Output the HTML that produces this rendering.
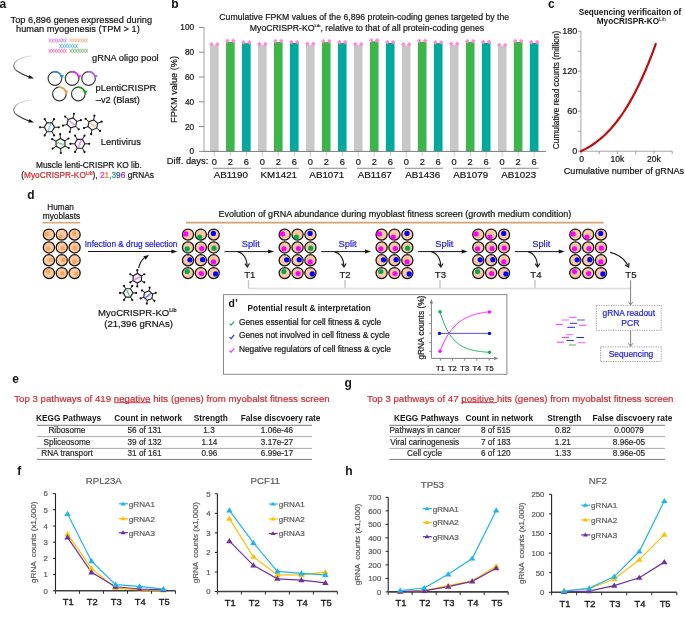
<!DOCTYPE html>
<html><head><meta charset="utf-8"><style>
html,body{margin:0;padding:0;background:#fff;}
svg{display:block;font-family:"Liberation Sans",sans-serif;will-change:transform;}
</style></head><body>
<svg width="685" height="618" viewBox="0 0 685 618">
<defs>
<linearGradient id="ga" x1="0" y1="0" x2="0" y2="1"><stop offset="0" stop-color="#e6e6e6"/><stop offset="0.5" stop-color="#777"/><stop offset="1" stop-color="#1a1a1a"/></linearGradient>
</defs>
<rect width="685" height="618" fill="#fff"/>
<text x="-0.60" y="8.00" font-size="12" font-weight="bold" fill="#151515">a</text>
<text x="10.60" y="23.10" font-size="9.22" fill="#151515" stroke="#151515" stroke-width="0.2">Top 6,896 genes expressed during</text>
<text x="16.00" y="32.10" font-size="9.22" fill="#151515" stroke="#151515" stroke-width="0.2">human myogenesis (TPM &gt; 1)</text>
<path d="M48.60,42.30 L48.80,42.25 L49.00,42.09 L49.21,41.84 L49.41,41.51 L49.61,41.12 L49.81,40.69 L50.02,40.25 L50.22,39.83 L50.42,39.44 L50.62,39.12 L50.82,38.88 L51.03,38.74 L51.23,38.70 L51.43,38.77 L51.63,38.94 L51.84,39.21 L52.04,39.55 L52.24,39.94 L52.44,40.37 L52.64,40.81 L52.85,41.23 L53.05,41.61 L53.25,41.92 L53.45,42.14 L53.66,42.27 L53.86,42.30 L54.06,42.21 L54.26,42.03 L54.46,41.75 L54.67,41.40 L54.87,41.00 L55.07,40.56 L55.27,40.13 L55.48,39.71 L55.68,39.34 L55.88,39.04 L56.08,38.83 L56.28,38.72 L56.49,38.71 L56.69,38.81 L56.89,39.01 L57.09,39.30 L57.30,39.65 L57.50,40.06 L57.70,40.50 L57.90,40.94 L58.10,41.35 L58.31,41.70 L58.51,41.99 L58.71,42.19 L58.91,42.29 L59.12,42.28 L59.32,42.17 L59.52,41.96 L59.72,41.66 L59.92,41.29 L60.13,40.87 L60.33,40.44 L60.53,40.00 L60.73,39.60 L60.94,39.25 L61.14,38.97 L61.34,38.79 L61.54,38.70 L61.74,38.73 L61.95,38.86 L62.15,39.08 L62.35,39.39 L62.55,39.77 L62.76,40.19 L62.96,40.63 L63.16,41.06 L63.36,41.45 L63.56,41.79 L63.77,42.06 L63.97,42.23 L64.17,42.30 L64.37,42.26 L64.58,42.12 L64.78,41.88 L64.98,41.56 L65.18,41.17 L65.38,40.75 L65.59,40.31 L65.79,39.88 L65.99,39.49 L66.19,39.16 L66.40,38.91 L66.60,38.75 L66.80,38.70" stroke="#d070f5" stroke-width="0.75" fill="none"/>
<path d="M48.60,38.70 L48.80,38.75 L49.00,38.91 L49.21,39.16 L49.41,39.49 L49.61,39.88 L49.81,40.31 L50.02,40.75 L50.22,41.17 L50.42,41.56 L50.62,41.88 L50.82,42.12 L51.03,42.26 L51.23,42.30 L51.43,42.23 L51.63,42.06 L51.84,41.79 L52.04,41.45 L52.24,41.06 L52.44,40.63 L52.64,40.19 L52.85,39.77 L53.05,39.39 L53.25,39.08 L53.45,38.86 L53.66,38.73 L53.86,38.70 L54.06,38.79 L54.26,38.97 L54.46,39.25 L54.67,39.60 L54.87,40.00 L55.07,40.44 L55.27,40.87 L55.48,41.29 L55.68,41.66 L55.88,41.96 L56.08,42.17 L56.28,42.28 L56.49,42.29 L56.69,42.19 L56.89,41.99 L57.09,41.70 L57.30,41.35 L57.50,40.94 L57.70,40.50 L57.90,40.06 L58.10,39.65 L58.31,39.30 L58.51,39.01 L58.71,38.81 L58.91,38.71 L59.12,38.72 L59.32,38.83 L59.52,39.04 L59.72,39.34 L59.92,39.71 L60.13,40.13 L60.33,40.56 L60.53,41.00 L60.73,41.40 L60.94,41.75 L61.14,42.03 L61.34,42.21 L61.54,42.30 L61.74,42.27 L61.95,42.14 L62.15,41.92 L62.35,41.61 L62.55,41.23 L62.76,40.81 L62.96,40.37 L63.16,39.94 L63.36,39.55 L63.56,39.21 L63.77,38.94 L63.97,38.77 L64.17,38.70 L64.37,38.74 L64.58,38.88 L64.78,39.12 L64.98,39.44 L65.18,39.83 L65.38,40.25 L65.59,40.69 L65.79,41.12 L65.99,41.51 L66.19,41.84 L66.40,42.09 L66.60,42.25 L66.80,42.30" stroke="#d070f5" stroke-width="0.75" fill="none"/>
<path d="M69.60,42.30 L69.80,42.25 L70.01,42.09 L70.21,41.84 L70.42,41.51 L70.62,41.12 L70.83,40.69 L71.03,40.25 L71.24,39.83 L71.44,39.44 L71.64,39.12 L71.85,38.88 L72.05,38.74 L72.26,38.70 L72.46,38.77 L72.67,38.94 L72.87,39.21 L73.08,39.55 L73.28,39.94 L73.48,40.37 L73.69,40.81 L73.89,41.23 L74.10,41.61 L74.30,41.92 L74.51,42.14 L74.71,42.27 L74.92,42.30 L75.12,42.21 L75.32,42.03 L75.53,41.75 L75.73,41.40 L75.94,41.00 L76.14,40.56 L76.35,40.13 L76.55,39.71 L76.76,39.34 L76.96,39.04 L77.16,38.83 L77.37,38.72 L77.57,38.71 L77.78,38.81 L77.98,39.01 L78.19,39.30 L78.39,39.65 L78.60,40.06 L78.80,40.50 L79.00,40.94 L79.21,41.35 L79.41,41.70 L79.62,41.99 L79.82,42.19 L80.03,42.29 L80.23,42.28 L80.44,42.17 L80.64,41.96 L80.84,41.66 L81.05,41.29 L81.25,40.87 L81.46,40.44 L81.66,40.00 L81.87,39.60 L82.07,39.25 L82.28,38.97 L82.48,38.79 L82.68,38.70 L82.89,38.73 L83.09,38.86 L83.30,39.08 L83.50,39.39 L83.71,39.77 L83.91,40.19 L84.12,40.63 L84.32,41.06 L84.52,41.45 L84.73,41.79 L84.93,42.06 L85.14,42.23 L85.34,42.30 L85.55,42.26 L85.75,42.12 L85.96,41.88 L86.16,41.56 L86.36,41.17 L86.57,40.75 L86.77,40.31 L86.98,39.88 L87.18,39.49 L87.39,39.16 L87.59,38.91 L87.80,38.75 L88.00,38.70" stroke="#f0a868" stroke-width="0.75" fill="none"/>
<path d="M69.60,38.70 L69.80,38.75 L70.01,38.91 L70.21,39.16 L70.42,39.49 L70.62,39.88 L70.83,40.31 L71.03,40.75 L71.24,41.17 L71.44,41.56 L71.64,41.88 L71.85,42.12 L72.05,42.26 L72.26,42.30 L72.46,42.23 L72.67,42.06 L72.87,41.79 L73.08,41.45 L73.28,41.06 L73.48,40.63 L73.69,40.19 L73.89,39.77 L74.10,39.39 L74.30,39.08 L74.51,38.86 L74.71,38.73 L74.92,38.70 L75.12,38.79 L75.32,38.97 L75.53,39.25 L75.73,39.60 L75.94,40.00 L76.14,40.44 L76.35,40.87 L76.55,41.29 L76.76,41.66 L76.96,41.96 L77.16,42.17 L77.37,42.28 L77.57,42.29 L77.78,42.19 L77.98,41.99 L78.19,41.70 L78.39,41.35 L78.60,40.94 L78.80,40.50 L79.00,40.06 L79.21,39.65 L79.41,39.30 L79.62,39.01 L79.82,38.81 L80.03,38.71 L80.23,38.72 L80.44,38.83 L80.64,39.04 L80.84,39.34 L81.05,39.71 L81.25,40.13 L81.46,40.56 L81.66,41.00 L81.87,41.40 L82.07,41.75 L82.28,42.03 L82.48,42.21 L82.68,42.30 L82.89,42.27 L83.09,42.14 L83.30,41.92 L83.50,41.61 L83.71,41.23 L83.91,40.81 L84.12,40.37 L84.32,39.94 L84.52,39.55 L84.73,39.21 L84.93,38.94 L85.14,38.77 L85.34,38.70 L85.55,38.74 L85.75,38.88 L85.96,39.12 L86.16,39.44 L86.36,39.83 L86.57,40.25 L86.77,40.69 L86.98,41.12 L87.18,41.51 L87.39,41.84 L87.59,42.09 L87.80,42.25 L88.00,42.30" stroke="#f0a868" stroke-width="0.75" fill="none"/>
<path d="M59.30,47.80 L59.50,47.75 L59.71,47.59 L59.91,47.34 L60.12,47.01 L60.32,46.62 L60.53,46.19 L60.73,45.75 L60.94,45.33 L61.14,44.94 L61.34,44.62 L61.55,44.38 L61.75,44.24 L61.96,44.20 L62.16,44.27 L62.37,44.44 L62.57,44.71 L62.78,45.05 L62.98,45.44 L63.18,45.87 L63.39,46.31 L63.59,46.73 L63.80,47.11 L64.00,47.42 L64.21,47.64 L64.41,47.77 L64.62,47.80 L64.82,47.71 L65.02,47.53 L65.23,47.25 L65.43,46.90 L65.64,46.50 L65.84,46.06 L66.05,45.63 L66.25,45.21 L66.46,44.84 L66.66,44.54 L66.86,44.33 L67.07,44.22 L67.27,44.21 L67.48,44.31 L67.68,44.51 L67.89,44.80 L68.09,45.15 L68.30,45.56 L68.50,46.00 L68.70,46.44 L68.91,46.85 L69.11,47.20 L69.32,47.49 L69.52,47.69 L69.73,47.79 L69.93,47.78 L70.14,47.67 L70.34,47.46 L70.54,47.16 L70.75,46.79 L70.95,46.37 L71.16,45.94 L71.36,45.50 L71.57,45.10 L71.77,44.75 L71.98,44.47 L72.18,44.29 L72.38,44.20 L72.59,44.23 L72.79,44.36 L73.00,44.58 L73.20,44.89 L73.41,45.27 L73.61,45.69 L73.82,46.13 L74.02,46.56 L74.22,46.95 L74.43,47.29 L74.63,47.56 L74.84,47.73 L75.04,47.80 L75.25,47.76 L75.45,47.62 L75.66,47.38 L75.86,47.06 L76.06,46.67 L76.27,46.25 L76.47,45.81 L76.68,45.38 L76.88,44.99 L77.09,44.66 L77.29,44.41 L77.50,44.25 L77.70,44.20" stroke="#3aa8e8" stroke-width="0.75" fill="none"/>
<path d="M59.30,44.20 L59.50,44.25 L59.71,44.41 L59.91,44.66 L60.12,44.99 L60.32,45.38 L60.53,45.81 L60.73,46.25 L60.94,46.67 L61.14,47.06 L61.34,47.38 L61.55,47.62 L61.75,47.76 L61.96,47.80 L62.16,47.73 L62.37,47.56 L62.57,47.29 L62.78,46.95 L62.98,46.56 L63.18,46.13 L63.39,45.69 L63.59,45.27 L63.80,44.89 L64.00,44.58 L64.21,44.36 L64.41,44.23 L64.62,44.20 L64.82,44.29 L65.02,44.47 L65.23,44.75 L65.43,45.10 L65.64,45.50 L65.84,45.94 L66.05,46.37 L66.25,46.79 L66.46,47.16 L66.66,47.46 L66.86,47.67 L67.07,47.78 L67.27,47.79 L67.48,47.69 L67.68,47.49 L67.89,47.20 L68.09,46.85 L68.30,46.44 L68.50,46.00 L68.70,45.56 L68.91,45.15 L69.11,44.80 L69.32,44.51 L69.52,44.31 L69.73,44.21 L69.93,44.22 L70.14,44.33 L70.34,44.54 L70.54,44.84 L70.75,45.21 L70.95,45.63 L71.16,46.06 L71.36,46.50 L71.57,46.90 L71.77,47.25 L71.98,47.53 L72.18,47.71 L72.38,47.80 L72.59,47.77 L72.79,47.64 L73.00,47.42 L73.20,47.11 L73.41,46.73 L73.61,46.31 L73.82,45.87 L74.02,45.44 L74.22,45.05 L74.43,44.71 L74.63,44.44 L74.84,44.27 L75.04,44.20 L75.25,44.24 L75.45,44.38 L75.66,44.62 L75.86,44.94 L76.06,45.33 L76.27,45.75 L76.47,46.19 L76.68,46.62 L76.88,47.01 L77.09,47.34 L77.29,47.59 L77.50,47.75 L77.70,47.80" stroke="#3aa8e8" stroke-width="0.75" fill="none"/>
<path d="M48.60,52.70 L48.80,52.65 L49.00,52.49 L49.21,52.24 L49.41,51.91 L49.61,51.52 L49.81,51.09 L50.02,50.65 L50.22,50.23 L50.42,49.84 L50.62,49.52 L50.82,49.28 L51.03,49.14 L51.23,49.10 L51.43,49.17 L51.63,49.34 L51.84,49.61 L52.04,49.95 L52.24,50.34 L52.44,50.77 L52.64,51.21 L52.85,51.63 L53.05,52.01 L53.25,52.32 L53.45,52.54 L53.66,52.67 L53.86,52.70 L54.06,52.61 L54.26,52.43 L54.46,52.15 L54.67,51.80 L54.87,51.40 L55.07,50.96 L55.27,50.53 L55.48,50.11 L55.68,49.74 L55.88,49.44 L56.08,49.23 L56.28,49.12 L56.49,49.11 L56.69,49.21 L56.89,49.41 L57.09,49.70 L57.30,50.05 L57.50,50.46 L57.70,50.90 L57.90,51.34 L58.10,51.75 L58.31,52.10 L58.51,52.39 L58.71,52.59 L58.91,52.69 L59.12,52.68 L59.32,52.57 L59.52,52.36 L59.72,52.06 L59.92,51.69 L60.13,51.27 L60.33,50.84 L60.53,50.40 L60.73,50.00 L60.94,49.65 L61.14,49.37 L61.34,49.19 L61.54,49.10 L61.74,49.13 L61.95,49.26 L62.15,49.48 L62.35,49.79 L62.55,50.17 L62.76,50.59 L62.96,51.03 L63.16,51.46 L63.36,51.85 L63.56,52.19 L63.77,52.46 L63.97,52.63 L64.17,52.70 L64.37,52.66 L64.58,52.52 L64.78,52.28 L64.98,51.96 L65.18,51.57 L65.38,51.15 L65.59,50.71 L65.79,50.28 L65.99,49.89 L66.19,49.56 L66.40,49.31 L66.60,49.15 L66.80,49.10" stroke="#ff4fa0" stroke-width="0.75" fill="none"/>
<path d="M48.60,49.10 L48.80,49.15 L49.00,49.31 L49.21,49.56 L49.41,49.89 L49.61,50.28 L49.81,50.71 L50.02,51.15 L50.22,51.57 L50.42,51.96 L50.62,52.28 L50.82,52.52 L51.03,52.66 L51.23,52.70 L51.43,52.63 L51.63,52.46 L51.84,52.19 L52.04,51.85 L52.24,51.46 L52.44,51.03 L52.64,50.59 L52.85,50.17 L53.05,49.79 L53.25,49.48 L53.45,49.26 L53.66,49.13 L53.86,49.10 L54.06,49.19 L54.26,49.37 L54.46,49.65 L54.67,50.00 L54.87,50.40 L55.07,50.84 L55.27,51.27 L55.48,51.69 L55.68,52.06 L55.88,52.36 L56.08,52.57 L56.28,52.68 L56.49,52.69 L56.69,52.59 L56.89,52.39 L57.09,52.10 L57.30,51.75 L57.50,51.34 L57.70,50.90 L57.90,50.46 L58.10,50.05 L58.31,49.70 L58.51,49.41 L58.71,49.21 L58.91,49.11 L59.12,49.12 L59.32,49.23 L59.52,49.44 L59.72,49.74 L59.92,50.11 L60.13,50.53 L60.33,50.96 L60.53,51.40 L60.73,51.80 L60.94,52.15 L61.14,52.43 L61.34,52.61 L61.54,52.70 L61.74,52.67 L61.95,52.54 L62.15,52.32 L62.35,52.01 L62.55,51.63 L62.76,51.21 L62.96,50.77 L63.16,50.34 L63.36,49.95 L63.56,49.61 L63.77,49.34 L63.97,49.17 L64.17,49.10 L64.37,49.14 L64.58,49.28 L64.78,49.52 L64.98,49.84 L65.18,50.23 L65.38,50.65 L65.59,51.09 L65.79,51.52 L65.99,51.91 L66.19,52.24 L66.40,52.49 L66.60,52.65 L66.80,52.70" stroke="#ff4fa0" stroke-width="0.75" fill="none"/>
<path d="M69.60,52.70 L69.80,52.65 L70.01,52.49 L70.21,52.24 L70.42,51.91 L70.62,51.52 L70.83,51.09 L71.03,50.65 L71.24,50.23 L71.44,49.84 L71.64,49.52 L71.85,49.28 L72.05,49.14 L72.26,49.10 L72.46,49.17 L72.67,49.34 L72.87,49.61 L73.08,49.95 L73.28,50.34 L73.48,50.77 L73.69,51.21 L73.89,51.63 L74.10,52.01 L74.30,52.32 L74.51,52.54 L74.71,52.67 L74.92,52.70 L75.12,52.61 L75.32,52.43 L75.53,52.15 L75.73,51.80 L75.94,51.40 L76.14,50.96 L76.35,50.53 L76.55,50.11 L76.76,49.74 L76.96,49.44 L77.16,49.23 L77.37,49.12 L77.57,49.11 L77.78,49.21 L77.98,49.41 L78.19,49.70 L78.39,50.05 L78.60,50.46 L78.80,50.90 L79.00,51.34 L79.21,51.75 L79.41,52.10 L79.62,52.39 L79.82,52.59 L80.03,52.69 L80.23,52.68 L80.44,52.57 L80.64,52.36 L80.84,52.06 L81.05,51.69 L81.25,51.27 L81.46,50.84 L81.66,50.40 L81.87,50.00 L82.07,49.65 L82.28,49.37 L82.48,49.19 L82.68,49.10 L82.89,49.13 L83.09,49.26 L83.30,49.48 L83.50,49.79 L83.71,50.17 L83.91,50.59 L84.12,51.03 L84.32,51.46 L84.52,51.85 L84.73,52.19 L84.93,52.46 L85.14,52.63 L85.34,52.70 L85.55,52.66 L85.75,52.52 L85.96,52.28 L86.16,51.96 L86.36,51.57 L86.57,51.15 L86.77,50.71 L86.98,50.28 L87.18,49.89 L87.39,49.56 L87.59,49.31 L87.80,49.15 L88.00,49.10" stroke="#5aaa50" stroke-width="0.75" fill="none"/>
<path d="M69.60,49.10 L69.80,49.15 L70.01,49.31 L70.21,49.56 L70.42,49.89 L70.62,50.28 L70.83,50.71 L71.03,51.15 L71.24,51.57 L71.44,51.96 L71.64,52.28 L71.85,52.52 L72.05,52.66 L72.26,52.70 L72.46,52.63 L72.67,52.46 L72.87,52.19 L73.08,51.85 L73.28,51.46 L73.48,51.03 L73.69,50.59 L73.89,50.17 L74.10,49.79 L74.30,49.48 L74.51,49.26 L74.71,49.13 L74.92,49.10 L75.12,49.19 L75.32,49.37 L75.53,49.65 L75.73,50.00 L75.94,50.40 L76.14,50.84 L76.35,51.27 L76.55,51.69 L76.76,52.06 L76.96,52.36 L77.16,52.57 L77.37,52.68 L77.57,52.69 L77.78,52.59 L77.98,52.39 L78.19,52.10 L78.39,51.75 L78.60,51.34 L78.80,50.90 L79.00,50.46 L79.21,50.05 L79.41,49.70 L79.62,49.41 L79.82,49.21 L80.03,49.11 L80.23,49.12 L80.44,49.23 L80.64,49.44 L80.84,49.74 L81.05,50.11 L81.25,50.53 L81.46,50.96 L81.66,51.40 L81.87,51.80 L82.07,52.15 L82.28,52.43 L82.48,52.61 L82.68,52.70 L82.89,52.67 L83.09,52.54 L83.30,52.32 L83.50,52.01 L83.71,51.63 L83.91,51.21 L84.12,50.77 L84.32,50.34 L84.52,49.95 L84.73,49.61 L84.93,49.34 L85.14,49.17 L85.34,49.10 L85.55,49.14 L85.75,49.28 L85.96,49.52 L86.16,49.84 L86.36,50.23 L86.57,50.65 L86.77,51.09 L86.98,51.52 L87.18,51.91 L87.39,52.24 L87.59,52.49 L87.80,52.65 L88.00,52.70" stroke="#5aaa50" stroke-width="0.75" fill="none"/>
<text x="92.00" y="61.40" font-size="9.3" fill="#151515" stroke="#151515" stroke-width="0.2">gRNA oligo pool</text>
<path d="M32.5,55.80 C16,57.00 9,65.50 17,71.00 C20.5,73.30 25,75.50 29,77.00" stroke="url(#ga)" stroke-width="1.1" fill="none"/>
<polygon points="34.00,78.60 28.22,78.41 29.45,75.03" fill="#151515"/>
<path d="M32.5,99.80 C16,101.00 9,109.50 17,115.00 C20.5,117.30 25,119.50 29,121.00" stroke="url(#ga)" stroke-width="1.1" fill="none"/>
<polygon points="34.00,122.60 28.22,122.41 29.45,119.03" fill="#151515"/>
<circle cx="54.90" cy="78.50" r="6.80" fill="none" stroke="#3a3a3a" stroke-width="1.2"/>
<path d="M53.72,71.80 A6.8,6.8 0 0 1 61.37,76.40" stroke="#1a8cff" stroke-width="1.6" fill="none"/>
<polygon points="61.70,78.74 59.82,74.96 64.20,75.34" fill="#1a8cff"/>
<circle cx="72.10" cy="78.50" r="6.80" fill="none" stroke="#3a3a3a" stroke-width="1.2"/>
<path d="M70.92,71.80 A6.8,6.8 0 0 1 78.57,76.40" stroke="#ff1aff" stroke-width="1.6" fill="none"/>
<polygon points="78.90,78.74 77.02,74.96 81.40,75.34" fill="#ff1aff"/>
<circle cx="88.60" cy="78.50" r="6.80" fill="none" stroke="#3a3a3a" stroke-width="1.2"/>
<path d="M87.42,71.80 A6.8,6.8 0 0 1 95.07,76.40" stroke="#b45cff" stroke-width="1.6" fill="none"/>
<polygon points="95.40,78.74 93.52,74.96 97.90,75.34" fill="#b45cff"/>
<circle cx="59.40" cy="94.00" r="6.80" fill="none" stroke="#3a3a3a" stroke-width="1.2"/>
<path d="M58.22,87.30 A6.8,6.8 0 0 1 65.87,91.90" stroke="#f5a04a" stroke-width="1.6" fill="none"/>
<polygon points="66.20,94.24 64.32,90.46 68.70,90.84" fill="#f5a04a"/>
<circle cx="78.30" cy="94.00" r="6.80" fill="none" stroke="#3a3a3a" stroke-width="1.2"/>
<path d="M77.12,87.30 A6.8,6.8 0 0 1 84.77,91.90" stroke="#14a014" stroke-width="1.6" fill="none"/>
<polygon points="85.10,94.24 83.22,90.46 87.60,90.84" fill="#14a014"/>
<text x="95.60" y="91.10" font-size="9.35" fill="#151515" stroke="#151515" stroke-width="0.2">pLentiCRISPR</text>
<text x="95.80" y="102.60" font-size="9.2" fill="#151515" stroke="#151515" stroke-width="0.2">–v2 (Blast)</text>
<path d="M54.50,127.30 L51.95,131.72 L46.85,131.72 L44.30,127.30 L46.85,122.88 L51.95,122.88Z" stroke="#222" stroke-width="1.15" fill="#ffffff"/>
<line x1="54.50" y1="127.30" x2="58.80" y2="127.30" stroke="#222" stroke-width="1.0"/>
<circle cx="58.80" cy="127.30" r="1.10" fill="#111"/>
<line x1="51.95" y1="131.72" x2="54.10" y2="135.44" stroke="#222" stroke-width="1.0"/>
<circle cx="54.10" cy="135.44" r="1.10" fill="#111"/>
<line x1="46.85" y1="131.72" x2="44.70" y2="135.44" stroke="#222" stroke-width="1.0"/>
<circle cx="44.70" cy="135.44" r="1.10" fill="#111"/>
<line x1="44.30" y1="127.30" x2="40.00" y2="127.30" stroke="#222" stroke-width="1.0"/>
<circle cx="40.00" cy="127.30" r="1.10" fill="#111"/>
<line x1="46.85" y1="122.88" x2="44.70" y2="119.16" stroke="#222" stroke-width="1.0"/>
<circle cx="44.70" cy="119.16" r="1.10" fill="#111"/>
<line x1="51.95" y1="122.88" x2="54.10" y2="119.16" stroke="#222" stroke-width="1.0"/>
<circle cx="54.10" cy="119.16" r="1.10" fill="#111"/>
<path d="M47.83,131.19 L48.20,131.12 L48.51,131.02 L48.70,130.87 L48.76,130.66 L48.68,130.41 L48.50,130.11 L48.28,129.79 L48.07,129.48 L47.96,129.21 L47.96,128.98 L48.11,128.82 L48.39,128.70 L48.75,128.62 L49.13,128.55 L49.47,128.46 L49.70,128.33 L49.81,128.14 L49.77,127.90 L49.62,127.61 L49.40,127.30 L49.18,126.99 L49.03,126.70 L48.99,126.46 L49.10,126.27 L49.33,126.14 L49.67,126.05 L50.05,125.98 L50.41,125.90 L50.69,125.78 L50.84,125.62 L50.84,125.39 L50.73,125.12 L50.52,124.81 L50.30,124.49 L50.12,124.19 L50.04,123.94 L50.10,123.73 L50.29,123.58 L50.60,123.48 L50.97,123.41" stroke="#3cb8f0" stroke-width="1.0" fill="none"/>
<path d="M76.78,121.41 L75.63,126.38 L70.75,127.87 L67.02,124.39 L68.17,119.42 L73.05,117.93Z" stroke="#222" stroke-width="1.15" fill="#ffffff"/>
<line x1="76.78" y1="121.41" x2="80.89" y2="120.15" stroke="#222" stroke-width="1.0"/>
<circle cx="80.89" cy="120.15" r="1.10" fill="#111"/>
<line x1="75.63" y1="126.38" x2="78.77" y2="129.31" stroke="#222" stroke-width="1.0"/>
<circle cx="78.77" cy="129.31" r="1.10" fill="#111"/>
<line x1="70.75" y1="127.87" x2="69.79" y2="132.06" stroke="#222" stroke-width="1.0"/>
<circle cx="69.79" cy="132.06" r="1.10" fill="#111"/>
<line x1="67.02" y1="124.39" x2="62.91" y2="125.65" stroke="#222" stroke-width="1.0"/>
<circle cx="62.91" cy="125.65" r="1.10" fill="#111"/>
<line x1="68.17" y1="119.42" x2="65.03" y2="116.49" stroke="#222" stroke-width="1.0"/>
<circle cx="65.03" cy="116.49" r="1.10" fill="#111"/>
<line x1="73.05" y1="117.93" x2="74.01" y2="113.74" stroke="#222" stroke-width="1.0"/>
<circle cx="74.01" cy="113.74" r="1.10" fill="#111"/>
<path d="M68.55,120.37 L68.52,120.75 L68.54,121.08 L68.63,121.30 L68.82,121.41 L69.09,121.40 L69.42,121.30 L69.79,121.17 L70.14,121.05 L70.43,121.01 L70.64,121.08 L70.77,121.26 L70.81,121.56 L70.79,121.93 L70.76,122.31 L70.76,122.66 L70.83,122.93 L70.98,123.07 L71.22,123.10 L71.54,123.03 L71.90,122.90 L72.26,122.77 L72.58,122.70 L72.82,122.73 L72.97,122.87 L73.04,123.14 L73.04,123.49 L73.01,123.87 L72.99,124.24 L73.03,124.54 L73.16,124.72 L73.37,124.79 L73.66,124.75 L74.01,124.63 L74.38,124.50 L74.71,124.40 L74.98,124.39 L75.17,124.50 L75.26,124.72 L75.28,125.05 L75.25,125.43" stroke="#c070f0" stroke-width="1.0" fill="none"/>
<path d="M97.59,123.16 L96.71,128.18 L91.91,129.92 L88.01,126.64 L88.89,121.62 L93.69,119.88Z" stroke="#222" stroke-width="1.15" fill="#ffffff"/>
<line x1="97.59" y1="123.16" x2="101.63" y2="121.69" stroke="#222" stroke-width="1.0"/>
<circle cx="101.63" cy="121.69" r="1.10" fill="#111"/>
<line x1="96.71" y1="128.18" x2="100.00" y2="130.94" stroke="#222" stroke-width="1.0"/>
<circle cx="100.00" cy="130.94" r="1.10" fill="#111"/>
<line x1="91.91" y1="129.92" x2="91.17" y2="134.16" stroke="#222" stroke-width="1.0"/>
<circle cx="91.17" cy="134.16" r="1.10" fill="#111"/>
<line x1="88.01" y1="126.64" x2="83.97" y2="128.11" stroke="#222" stroke-width="1.0"/>
<circle cx="83.97" cy="128.11" r="1.10" fill="#111"/>
<line x1="88.89" y1="121.62" x2="85.60" y2="118.86" stroke="#222" stroke-width="1.0"/>
<circle cx="85.60" cy="118.86" r="1.10" fill="#111"/>
<line x1="93.69" y1="119.88" x2="94.43" y2="115.64" stroke="#222" stroke-width="1.0"/>
<circle cx="94.43" cy="115.64" r="1.10" fill="#111"/>
<path d="M89.16,122.80 L89.19,123.18 L89.24,123.50 L89.36,123.71 L89.56,123.80 L89.82,123.75 L90.15,123.62 L90.49,123.44 L90.82,123.28 L91.11,123.20 L91.33,123.24 L91.48,123.41 L91.55,123.70 L91.58,124.07 L91.60,124.46 L91.64,124.80 L91.74,125.06 L91.91,125.18 L92.15,125.18 L92.46,125.07 L92.80,124.90 L93.14,124.73 L93.45,124.62 L93.69,124.62 L93.86,124.74 L93.96,125.00 L94.00,125.34 L94.02,125.73 L94.05,126.10 L94.12,126.39 L94.27,126.56 L94.49,126.60 L94.78,126.52 L95.11,126.36 L95.45,126.18 L95.78,126.05 L96.04,126.00 L96.24,126.09 L96.36,126.30 L96.41,126.62 L96.44,127.00" stroke="#f0b020" stroke-width="1.0" fill="none"/>
<path d="M65.00,145.99 L60.68,148.70 L56.17,146.30 L56.00,141.21 L60.32,138.50 L64.83,140.90Z" stroke="#222" stroke-width="1.15" fill="#ffffff"/>
<line x1="65.00" y1="145.99" x2="68.80" y2="148.01" stroke="#222" stroke-width="1.0"/>
<circle cx="68.80" cy="148.01" r="1.10" fill="#111"/>
<line x1="60.68" y1="148.70" x2="60.83" y2="152.99" stroke="#222" stroke-width="1.0"/>
<circle cx="60.83" cy="152.99" r="1.10" fill="#111"/>
<line x1="56.17" y1="146.30" x2="52.53" y2="148.58" stroke="#222" stroke-width="1.0"/>
<circle cx="52.53" cy="148.58" r="1.10" fill="#111"/>
<line x1="56.00" y1="141.21" x2="52.20" y2="139.19" stroke="#222" stroke-width="1.0"/>
<circle cx="52.20" cy="139.19" r="1.10" fill="#111"/>
<line x1="60.32" y1="138.50" x2="60.17" y2="134.21" stroke="#222" stroke-width="1.0"/>
<circle cx="60.17" cy="134.21" r="1.10" fill="#111"/>
<line x1="64.83" y1="140.90" x2="68.47" y2="138.62" stroke="#222" stroke-width="1.0"/>
<circle cx="68.47" cy="138.62" r="1.10" fill="#111"/>
<path d="M56.44,142.51 L56.56,142.87 L56.70,143.17 L56.87,143.34 L57.08,143.37 L57.33,143.26 L57.60,143.05 L57.89,142.79 L58.17,142.55 L58.43,142.40 L58.65,142.38 L58.84,142.51 L58.98,142.77 L59.11,143.11 L59.23,143.48 L59.36,143.81 L59.52,144.03 L59.71,144.10 L59.95,144.04 L60.21,143.85 L60.50,143.60 L60.79,143.35 L61.05,143.16 L61.29,143.10 L61.48,143.17 L61.64,143.39 L61.77,143.72 L61.89,144.09 L62.02,144.43 L62.16,144.69 L62.35,144.82 L62.57,144.80 L62.83,144.65 L63.11,144.41 L63.40,144.15 L63.67,143.94 L63.92,143.83 L64.13,143.86 L64.30,144.03 L64.44,144.33 L64.56,144.69" stroke="#3caa3c" stroke-width="1.0" fill="none"/>
<path d="M84.90,143.80 L82.35,148.22 L77.25,148.22 L74.70,143.80 L77.25,139.38 L82.35,139.38Z" stroke="#222" stroke-width="1.15" fill="#ffffff"/>
<line x1="84.90" y1="143.80" x2="89.20" y2="143.80" stroke="#222" stroke-width="1.0"/>
<circle cx="89.20" cy="143.80" r="1.10" fill="#111"/>
<line x1="82.35" y1="148.22" x2="84.50" y2="151.94" stroke="#222" stroke-width="1.0"/>
<circle cx="84.50" cy="151.94" r="1.10" fill="#111"/>
<line x1="77.25" y1="148.22" x2="75.10" y2="151.94" stroke="#222" stroke-width="1.0"/>
<circle cx="75.10" cy="151.94" r="1.10" fill="#111"/>
<line x1="74.70" y1="143.80" x2="70.40" y2="143.80" stroke="#222" stroke-width="1.0"/>
<circle cx="70.40" cy="143.80" r="1.10" fill="#111"/>
<line x1="77.25" y1="139.38" x2="75.10" y2="135.66" stroke="#222" stroke-width="1.0"/>
<circle cx="75.10" cy="135.66" r="1.10" fill="#111"/>
<line x1="82.35" y1="139.38" x2="84.50" y2="135.66" stroke="#222" stroke-width="1.0"/>
<circle cx="84.50" cy="135.66" r="1.10" fill="#111"/>
<path d="M78.36,147.75 L78.73,147.66 L79.04,147.55 L79.23,147.39 L79.28,147.19 L79.19,146.93 L79.00,146.64 L78.76,146.33 L78.55,146.03 L78.42,145.76 L78.42,145.53 L78.57,145.36 L78.84,145.24 L79.19,145.14 L79.57,145.06 L79.91,144.96 L80.14,144.82 L80.23,144.63 L80.19,144.39 L80.03,144.11 L79.80,143.80 L79.57,143.49 L79.41,143.21 L79.37,142.97 L79.46,142.78 L79.69,142.64 L80.03,142.54 L80.41,142.46 L80.76,142.36 L81.03,142.24 L81.18,142.07 L81.18,141.84 L81.05,141.57 L80.84,141.27 L80.60,140.96 L80.41,140.67 L80.32,140.41 L80.37,140.21 L80.56,140.05 L80.87,139.94 L81.24,139.85" stroke="#ff30ff" stroke-width="1.0" fill="none"/>
<text x="100.80" y="144.90" font-size="9.4" fill="#151515" stroke="#151515" stroke-width="0.2">Lentivirus</text>
<text x="36.00" y="168.00" font-size="8.35" fill="#151515" stroke="#151515" stroke-width="0.2">Muscle lenti-CRISPR KO lib.</text>
<text stroke="#151515" stroke-width="0.2" x="21.3" y="177.8" font-size="8.3" fill="#151515">(<tspan fill="#d02828" stroke="#d02828">MyoCRISPR-KO</tspan><tspan fill="#d02828" stroke="#d02828" font-size="5" dy="-3.2">Lib</tspan><tspan dy="3.2">), </tspan><tspan fill="#ff20e0" stroke="#ff20e0">2</tspan><tspan fill="#f08020" stroke="#f08020">1</tspan><tspan fill="#20a060" stroke="#20a060">,3</tspan><tspan fill="#2040ff" stroke="#2040ff">9</tspan><tspan fill="#a02890" stroke="#a02890">6</tspan> gRNAs</text>
<text x="171.20" y="8.00" font-size="12" font-weight="bold" fill="#151515">b</text>
<text x="364.20" y="19.60" font-size="8.7" text-anchor="middle" fill="#151515" stroke="#151515" stroke-width="0.2">Cumulative FPKM values of the 6,896 protein-coding genes targeted by the</text>
<text stroke="#151515" stroke-width="0.2" x="367" y="30.5" font-size="8.7" text-anchor="middle" fill="#151515">MyoCRISPR-KO<tspan font-size="4.4" dy="-3.1">Lib</tspan><tspan dy="3.1">, relative to that of all protein-coding genes</tspan></text>
<line x1="204.00" y1="27.00" x2="204.00" y2="151.40" stroke="#9a9a9a" stroke-width="0.9"/>
<line x1="199.00" y1="151.40" x2="204.00" y2="151.40" stroke="#7a7a7a" stroke-width="0.9"/>
<text x="194.20" y="154.40" font-size="8.3" text-anchor="end" fill="#151515" stroke="#151515" stroke-width="0.2">0</text>
<line x1="199.00" y1="126.60" x2="204.00" y2="126.60" stroke="#7a7a7a" stroke-width="0.9"/>
<text x="194.20" y="129.60" font-size="8.3" text-anchor="end" fill="#151515" stroke="#151515" stroke-width="0.2">20</text>
<line x1="199.00" y1="101.80" x2="204.00" y2="101.80" stroke="#7a7a7a" stroke-width="0.9"/>
<text x="194.20" y="104.80" font-size="8.3" text-anchor="end" fill="#151515" stroke="#151515" stroke-width="0.2">40</text>
<line x1="199.00" y1="77.00" x2="204.00" y2="77.00" stroke="#7a7a7a" stroke-width="0.9"/>
<text x="194.20" y="80.00" font-size="8.3" text-anchor="end" fill="#151515" stroke="#151515" stroke-width="0.2">60</text>
<line x1="199.00" y1="52.20" x2="204.00" y2="52.20" stroke="#7a7a7a" stroke-width="0.9"/>
<text x="194.20" y="55.20" font-size="8.3" text-anchor="end" fill="#151515" stroke="#151515" stroke-width="0.2">80</text>
<line x1="199.00" y1="27.40" x2="204.00" y2="27.40" stroke="#7a7a7a" stroke-width="0.9"/>
<text x="194.20" y="30.40" font-size="8.3" text-anchor="end" fill="#151515" stroke="#151515" stroke-width="0.2">100</text>
<text stroke="#151515" stroke-width="0.2" transform="translate(176.5,89.5) rotate(-90)" font-size="9.2" text-anchor="middle" fill="#151515">FPKM value (%)</text>
<rect x="210.05" y="45.13" width="8.60" height="106.27" fill="#c8c8c8"/>
<polygon points="211.45,41.93 213.75,44.23 211.45,46.53 209.15,44.23" fill="#ff8ad8"/>
<polygon points="217.35,41.93 219.65,44.23 217.35,46.53 215.05,44.23" fill="#ff8ad8"/>
<line x1="214.35" y1="151.40" x2="214.35" y2="156.50" stroke="#c4c4c4" stroke-width="0.9"/>
<text x="214.35" y="164.60" font-size="9.3" text-anchor="middle" fill="#151515" stroke="#151515" stroke-width="0.2">0</text>
<rect x="226.04" y="41.78" width="8.60" height="109.62" fill="#3db54a"/>
<polygon points="227.44,38.58 229.74,40.88 227.44,43.18 225.14,40.88" fill="#ff8ad8"/>
<polygon points="233.34,38.58 235.64,40.88 233.34,43.18 231.04,40.88" fill="#ff8ad8"/>
<line x1="230.34" y1="151.40" x2="230.34" y2="156.50" stroke="#c4c4c4" stroke-width="0.9"/>
<text x="230.34" y="164.60" font-size="9.3" text-anchor="middle" fill="#151515" stroke="#151515" stroke-width="0.2">2</text>
<rect x="242.03" y="43.15" width="8.60" height="108.25" fill="#00a99c"/>
<polygon points="243.43,39.95 245.73,42.25 243.43,44.55 241.13,42.25" fill="#ff8ad8"/>
<polygon points="249.33,39.95 251.63,42.25 249.33,44.55 247.03,42.25" fill="#ff8ad8"/>
<line x1="246.33" y1="151.40" x2="246.33" y2="156.50" stroke="#c4c4c4" stroke-width="0.9"/>
<text x="246.33" y="164.60" font-size="9.3" text-anchor="middle" fill="#151515" stroke="#151515" stroke-width="0.2">6</text>
<line x1="212.95" y1="168.20" x2="251.05" y2="168.20" stroke="#8a8a8a" stroke-width="1.1"/>
<text x="230.85" y="177.70" font-size="9.8" text-anchor="middle" fill="#151515" stroke="#151515" stroke-width="0.2">AB1190</text>
<rect x="258.02" y="45.01" width="8.60" height="106.39" fill="#c8c8c8"/>
<polygon points="259.42,41.81 261.72,44.11 259.42,46.41 257.12,44.11" fill="#ff8ad8"/>
<polygon points="265.32,41.81 267.62,44.11 265.32,46.41 263.02,44.11" fill="#ff8ad8"/>
<line x1="262.32" y1="151.40" x2="262.32" y2="156.50" stroke="#c4c4c4" stroke-width="0.9"/>
<text x="262.32" y="164.60" font-size="9.3" text-anchor="middle" fill="#151515" stroke="#151515" stroke-width="0.2">0</text>
<rect x="274.01" y="41.91" width="8.60" height="109.49" fill="#3db54a"/>
<polygon points="275.41,38.71 277.71,41.01 275.41,43.31 273.11,41.01" fill="#ff8ad8"/>
<polygon points="281.31,38.71 283.61,41.01 281.31,43.31 279.01,41.01" fill="#ff8ad8"/>
<line x1="278.31" y1="151.40" x2="278.31" y2="156.50" stroke="#c4c4c4" stroke-width="0.9"/>
<text x="278.31" y="164.60" font-size="9.3" text-anchor="middle" fill="#151515" stroke="#151515" stroke-width="0.2">2</text>
<rect x="290.00" y="42.90" width="8.60" height="108.50" fill="#00a99c"/>
<polygon points="291.40,39.70 293.70,42.00 291.40,44.30 289.10,42.00" fill="#ff8ad8"/>
<polygon points="297.30,39.70 299.60,42.00 297.30,44.30 295.00,42.00" fill="#ff8ad8"/>
<line x1="294.30" y1="151.40" x2="294.30" y2="156.50" stroke="#c4c4c4" stroke-width="0.9"/>
<text x="294.30" y="164.60" font-size="9.3" text-anchor="middle" fill="#151515" stroke="#151515" stroke-width="0.2">6</text>
<line x1="260.92" y1="168.20" x2="299.02" y2="168.20" stroke="#8a8a8a" stroke-width="1.1"/>
<text x="278.82" y="177.70" font-size="9.8" text-anchor="middle" fill="#151515" stroke="#151515" stroke-width="0.2">KM1421</text>
<rect x="305.99" y="44.76" width="8.60" height="106.64" fill="#c8c8c8"/>
<polygon points="307.39,41.56 309.69,43.86 307.39,46.16 305.09,43.86" fill="#ff8ad8"/>
<polygon points="313.29,41.56 315.59,43.86 313.29,46.16 310.99,43.86" fill="#ff8ad8"/>
<line x1="310.29" y1="151.40" x2="310.29" y2="156.50" stroke="#c4c4c4" stroke-width="0.9"/>
<text x="310.29" y="164.60" font-size="9.3" text-anchor="middle" fill="#151515" stroke="#151515" stroke-width="0.2">0</text>
<rect x="321.98" y="42.03" width="8.60" height="109.37" fill="#3db54a"/>
<polygon points="323.38,38.83 325.68,41.13 323.38,43.43 321.08,41.13" fill="#ff8ad8"/>
<polygon points="329.28,38.83 331.58,41.13 329.28,43.43 326.98,41.13" fill="#ff8ad8"/>
<line x1="326.28" y1="151.40" x2="326.28" y2="156.50" stroke="#c4c4c4" stroke-width="0.9"/>
<text x="326.28" y="164.60" font-size="9.3" text-anchor="middle" fill="#151515" stroke="#151515" stroke-width="0.2">2</text>
<rect x="337.97" y="43.02" width="8.60" height="108.38" fill="#00a99c"/>
<polygon points="339.37,39.82 341.67,42.12 339.37,44.42 337.07,42.12" fill="#ff8ad8"/>
<polygon points="345.27,39.82 347.57,42.12 345.27,44.42 342.97,42.12" fill="#ff8ad8"/>
<line x1="342.27" y1="151.40" x2="342.27" y2="156.50" stroke="#c4c4c4" stroke-width="0.9"/>
<text x="342.27" y="164.60" font-size="9.3" text-anchor="middle" fill="#151515" stroke="#151515" stroke-width="0.2">6</text>
<line x1="308.89" y1="168.20" x2="346.99" y2="168.20" stroke="#8a8a8a" stroke-width="1.1"/>
<text x="326.79" y="177.70" font-size="9.8" text-anchor="middle" fill="#151515" stroke="#151515" stroke-width="0.2">AB1071</text>
<rect x="353.96" y="45.01" width="8.60" height="106.39" fill="#c8c8c8"/>
<polygon points="355.36,41.81 357.66,44.11 355.36,46.41 353.06,44.11" fill="#ff8ad8"/>
<polygon points="361.26,41.81 363.56,44.11 361.26,46.41 358.96,44.11" fill="#ff8ad8"/>
<line x1="358.26" y1="151.40" x2="358.26" y2="156.50" stroke="#c4c4c4" stroke-width="0.9"/>
<text x="358.26" y="164.60" font-size="9.3" text-anchor="middle" fill="#151515" stroke="#151515" stroke-width="0.2">0</text>
<rect x="369.95" y="41.29" width="8.60" height="110.11" fill="#3db54a"/>
<polygon points="371.35,38.09 373.65,40.39 371.35,42.69 369.05,40.39" fill="#ff8ad8"/>
<polygon points="377.25,38.09 379.55,40.39 377.25,42.69 374.95,40.39" fill="#ff8ad8"/>
<line x1="374.25" y1="151.40" x2="374.25" y2="156.50" stroke="#c4c4c4" stroke-width="0.9"/>
<text x="374.25" y="164.60" font-size="9.3" text-anchor="middle" fill="#151515" stroke="#151515" stroke-width="0.2">2</text>
<rect x="385.94" y="42.90" width="8.60" height="108.50" fill="#00a99c"/>
<polygon points="387.34,39.70 389.64,42.00 387.34,44.30 385.04,42.00" fill="#ff8ad8"/>
<polygon points="393.24,39.70 395.54,42.00 393.24,44.30 390.94,42.00" fill="#ff8ad8"/>
<line x1="390.24" y1="151.40" x2="390.24" y2="156.50" stroke="#c4c4c4" stroke-width="0.9"/>
<text x="390.24" y="164.60" font-size="9.3" text-anchor="middle" fill="#151515" stroke="#151515" stroke-width="0.2">6</text>
<line x1="356.86" y1="168.20" x2="394.96" y2="168.20" stroke="#8a8a8a" stroke-width="1.1"/>
<text x="374.76" y="177.70" font-size="9.8" text-anchor="middle" fill="#151515" stroke="#151515" stroke-width="0.2">AB1167</text>
<rect x="401.93" y="45.26" width="8.60" height="106.14" fill="#c8c8c8"/>
<polygon points="403.33,42.06 405.63,44.36 403.33,46.66 401.03,44.36" fill="#ff8ad8"/>
<polygon points="409.23,42.06 411.53,44.36 409.23,46.66 406.93,44.36" fill="#ff8ad8"/>
<line x1="406.23" y1="151.40" x2="406.23" y2="156.50" stroke="#c4c4c4" stroke-width="0.9"/>
<text x="406.23" y="164.60" font-size="9.3" text-anchor="middle" fill="#151515" stroke="#151515" stroke-width="0.2">0</text>
<rect x="417.92" y="41.66" width="8.60" height="109.74" fill="#3db54a"/>
<polygon points="419.32,38.46 421.62,40.76 419.32,43.06 417.02,40.76" fill="#ff8ad8"/>
<polygon points="425.22,38.46 427.52,40.76 425.22,43.06 422.92,40.76" fill="#ff8ad8"/>
<line x1="422.22" y1="151.40" x2="422.22" y2="156.50" stroke="#c4c4c4" stroke-width="0.9"/>
<text x="422.22" y="164.60" font-size="9.3" text-anchor="middle" fill="#151515" stroke="#151515" stroke-width="0.2">2</text>
<rect x="433.91" y="43.15" width="8.60" height="108.25" fill="#00a99c"/>
<polygon points="435.31,39.95 437.61,42.25 435.31,44.55 433.01,42.25" fill="#ff8ad8"/>
<polygon points="441.21,39.95 443.51,42.25 441.21,44.55 438.91,42.25" fill="#ff8ad8"/>
<line x1="438.21" y1="151.40" x2="438.21" y2="156.50" stroke="#c4c4c4" stroke-width="0.9"/>
<text x="438.21" y="164.60" font-size="9.3" text-anchor="middle" fill="#151515" stroke="#151515" stroke-width="0.2">6</text>
<line x1="404.83" y1="168.20" x2="442.93" y2="168.20" stroke="#8a8a8a" stroke-width="1.1"/>
<text x="422.73" y="177.70" font-size="9.8" text-anchor="middle" fill="#151515" stroke="#151515" stroke-width="0.2">AB1436</text>
<rect x="449.90" y="44.76" width="8.60" height="106.64" fill="#c8c8c8"/>
<polygon points="451.30,41.56 453.60,43.86 451.30,46.16 449.00,43.86" fill="#ff8ad8"/>
<polygon points="457.20,41.56 459.50,43.86 457.20,46.16 454.90,43.86" fill="#ff8ad8"/>
<line x1="454.20" y1="151.40" x2="454.20" y2="156.50" stroke="#c4c4c4" stroke-width="0.9"/>
<text x="454.20" y="164.60" font-size="9.3" text-anchor="middle" fill="#151515" stroke="#151515" stroke-width="0.2">0</text>
<rect x="465.89" y="42.03" width="8.60" height="109.37" fill="#3db54a"/>
<polygon points="467.29,38.83 469.59,41.13 467.29,43.43 464.99,41.13" fill="#ff8ad8"/>
<polygon points="473.19,38.83 475.49,41.13 473.19,43.43 470.89,41.13" fill="#ff8ad8"/>
<line x1="470.19" y1="151.40" x2="470.19" y2="156.50" stroke="#c4c4c4" stroke-width="0.9"/>
<text x="470.19" y="164.60" font-size="9.3" text-anchor="middle" fill="#151515" stroke="#151515" stroke-width="0.2">2</text>
<rect x="481.88" y="42.78" width="8.60" height="108.62" fill="#00a99c"/>
<polygon points="483.28,39.58 485.58,41.88 483.28,44.18 480.98,41.88" fill="#ff8ad8"/>
<polygon points="489.18,39.58 491.48,41.88 489.18,44.18 486.88,41.88" fill="#ff8ad8"/>
<line x1="486.18" y1="151.40" x2="486.18" y2="156.50" stroke="#c4c4c4" stroke-width="0.9"/>
<text x="486.18" y="164.60" font-size="9.3" text-anchor="middle" fill="#151515" stroke="#151515" stroke-width="0.2">6</text>
<line x1="452.80" y1="168.20" x2="490.90" y2="168.20" stroke="#8a8a8a" stroke-width="1.1"/>
<text x="470.70" y="177.70" font-size="9.8" text-anchor="middle" fill="#151515" stroke="#151515" stroke-width="0.2">AB1079</text>
<rect x="497.87" y="45.88" width="8.60" height="105.52" fill="#c8c8c8"/>
<polygon points="499.27,42.68 501.57,44.98 499.27,47.28 496.97,44.98" fill="#ff8ad8"/>
<polygon points="505.17,42.68 507.47,44.98 505.17,47.28 502.87,44.98" fill="#ff8ad8"/>
<line x1="502.17" y1="151.40" x2="502.17" y2="156.50" stroke="#c4c4c4" stroke-width="0.9"/>
<text x="502.17" y="164.60" font-size="9.3" text-anchor="middle" fill="#151515" stroke="#151515" stroke-width="0.2">0</text>
<rect x="513.86" y="41.91" width="8.60" height="109.49" fill="#3db54a"/>
<polygon points="515.26,38.71 517.56,41.01 515.26,43.31 512.96,41.01" fill="#ff8ad8"/>
<polygon points="521.16,38.71 523.46,41.01 521.16,43.31 518.86,41.01" fill="#ff8ad8"/>
<line x1="518.16" y1="151.40" x2="518.16" y2="156.50" stroke="#c4c4c4" stroke-width="0.9"/>
<text x="518.16" y="164.60" font-size="9.3" text-anchor="middle" fill="#151515" stroke="#151515" stroke-width="0.2">2</text>
<rect x="529.85" y="43.02" width="8.60" height="108.38" fill="#00a99c"/>
<polygon points="531.25,39.82 533.55,42.12 531.25,44.42 528.95,42.12" fill="#ff8ad8"/>
<polygon points="537.15,39.82 539.45,42.12 537.15,44.42 534.85,42.12" fill="#ff8ad8"/>
<line x1="534.15" y1="151.40" x2="534.15" y2="156.50" stroke="#c4c4c4" stroke-width="0.9"/>
<text x="534.15" y="164.60" font-size="9.3" text-anchor="middle" fill="#151515" stroke="#151515" stroke-width="0.2">6</text>
<line x1="500.77" y1="168.20" x2="538.87" y2="168.20" stroke="#8a8a8a" stroke-width="1.1"/>
<text x="518.67" y="177.70" font-size="9.8" text-anchor="middle" fill="#151515" stroke="#151515" stroke-width="0.2">AB1023</text>
<line x1="204.00" y1="151.40" x2="546.00" y2="151.40" stroke="#7a7a7a" stroke-width="1.0"/>
<text x="166.80" y="164.40" font-size="9.4" fill="#151515" stroke="#151515" stroke-width="0.2">Diff. days:</text>
<text x="548.00" y="8.00" font-size="12" font-weight="bold" fill="#151515">c</text>
<text x="630.00" y="15.20" font-size="8.2" font-weight="bold" text-anchor="middle" fill="#151515">Sequencing verificaiton of</text>
<text x="631.3" y="23.7" font-size="8.2" font-weight="bold" text-anchor="middle" fill="#151515">MyoCRISPR-KO<tspan font-size="5" dy="-3" font-weight="normal">Lib</tspan></text>
<line x1="580.90" y1="31.00" x2="580.90" y2="151.20" stroke="#9a9a9a" stroke-width="0.9"/>
<line x1="577.90" y1="151.20" x2="580.90" y2="151.20" stroke="#8a8a8a" stroke-width="0.8"/>
<text x="577.20" y="154.40" font-size="9.0" text-anchor="end" fill="#151515" stroke="#151515" stroke-width="0.2">0</text>
<line x1="577.90" y1="131.20" x2="580.90" y2="131.20" stroke="#8a8a8a" stroke-width="0.8"/>
<line x1="577.90" y1="111.20" x2="580.90" y2="111.20" stroke="#8a8a8a" stroke-width="0.8"/>
<text x="577.20" y="114.40" font-size="9.0" text-anchor="end" fill="#151515" stroke="#151515" stroke-width="0.2">60</text>
<line x1="577.90" y1="91.20" x2="580.90" y2="91.20" stroke="#8a8a8a" stroke-width="0.8"/>
<line x1="577.90" y1="71.20" x2="580.90" y2="71.20" stroke="#8a8a8a" stroke-width="0.8"/>
<text x="577.20" y="74.40" font-size="9.0" text-anchor="end" fill="#151515" stroke="#151515" stroke-width="0.2">120</text>
<line x1="577.90" y1="51.20" x2="580.90" y2="51.20" stroke="#8a8a8a" stroke-width="0.8"/>
<line x1="577.90" y1="31.20" x2="580.90" y2="31.20" stroke="#8a8a8a" stroke-width="0.8"/>
<text x="577.20" y="34.40" font-size="9.0" text-anchor="end" fill="#151515" stroke="#151515" stroke-width="0.2">180</text>
<line x1="580.90" y1="151.20" x2="672.20" y2="151.20" stroke="#9a9a9a" stroke-width="0.9"/>
<line x1="580.90" y1="151.20" x2="580.90" y2="154.20" stroke="#8a8a8a" stroke-width="0.8"/>
<line x1="599.16" y1="151.20" x2="599.16" y2="154.20" stroke="#8a8a8a" stroke-width="0.8"/>
<line x1="617.42" y1="151.20" x2="617.42" y2="154.20" stroke="#8a8a8a" stroke-width="0.8"/>
<line x1="635.68" y1="151.20" x2="635.68" y2="154.20" stroke="#8a8a8a" stroke-width="0.8"/>
<line x1="653.94" y1="151.20" x2="653.94" y2="154.20" stroke="#8a8a8a" stroke-width="0.8"/>
<line x1="672.20" y1="151.20" x2="672.20" y2="154.20" stroke="#8a8a8a" stroke-width="0.8"/>
<text x="581.60" y="161.80" font-size="8.6" text-anchor="middle" fill="#151515" stroke="#151515" stroke-width="0.2">0</text>
<text x="617.42" y="161.80" font-size="8.6" text-anchor="middle" fill="#151515" stroke="#151515" stroke-width="0.2">10k</text>
<text x="653.94" y="161.80" font-size="8.6" text-anchor="middle" fill="#151515" stroke="#151515" stroke-width="0.2">20k</text>
<text x="563.80" y="173.60" font-size="9.1" fill="#151515" stroke="#151515" stroke-width="0.2">Cumulative number of gRNAs</text>
<text stroke="#151515" stroke-width="0.2" transform="translate(559.3,89.9) rotate(-90)" font-size="8.3" text-anchor="middle" fill="#151515">Cumulative read counts (million)</text>
<path d="M580.90,151.20 L582.77,150.32 L584.64,149.39 L586.51,148.39 L588.39,147.33 L590.26,146.21 L592.13,145.01 L594.00,143.75 L595.87,142.40 L597.74,140.98 L599.62,139.49 L601.49,137.90 L603.36,136.24 L605.23,134.48 L607.10,132.63 L608.97,130.69 L610.85,128.66 L612.72,126.52 L614.59,124.29 L616.46,121.95 L618.33,119.50 L620.20,116.94 L622.08,114.27 L623.95,111.49 L625.82,108.59 L627.69,105.57 L629.56,102.42 L631.43,99.15 L633.31,95.75 L635.18,92.22 L637.05,88.56 L638.92,84.76 L640.79,80.82 L642.66,76.74 L644.54,72.52 L646.41,68.15 L648.28,63.63 L650.15,58.95 L652.02,54.12 L653.89,49.14 L655.77,43.99" stroke="#c40c0c" stroke-width="2.2" fill="none" stroke-linecap="round"/>
<text x="27.30" y="199.00" font-size="12" font-weight="bold" fill="#151515">d</text>
<text x="60.55" y="209.80" font-size="8.2" text-anchor="middle" fill="#151515" stroke="#151515" stroke-width="0.2">Human</text>
<text x="61.45" y="219.00" font-size="8.3" text-anchor="middle" fill="#151515" stroke="#151515" stroke-width="0.2">myoblasts</text>
<line x1="42.30" y1="222.70" x2="80.30" y2="222.70" stroke="#d9a877" stroke-width="1.5"/>
<circle cx="48.90" cy="234.60" r="5.60" fill="#fdc9a0" stroke="#111" stroke-width="1.25"/>
<circle cx="61.75" cy="234.60" r="5.60" fill="#fdc9a0" stroke="#111" stroke-width="1.25"/>
<circle cx="74.60" cy="234.60" r="5.60" fill="#fdc9a0" stroke="#111" stroke-width="1.25"/>
<circle cx="48.90" cy="247.45" r="5.60" fill="#fdc9a0" stroke="#111" stroke-width="1.25"/>
<circle cx="61.75" cy="247.45" r="5.60" fill="#fdc9a0" stroke="#111" stroke-width="1.25"/>
<circle cx="74.60" cy="247.45" r="5.60" fill="#fdc9a0" stroke="#111" stroke-width="1.25"/>
<circle cx="48.90" cy="260.30" r="5.60" fill="#fdc9a0" stroke="#111" stroke-width="1.25"/>
<circle cx="61.75" cy="260.30" r="5.60" fill="#fdc9a0" stroke="#111" stroke-width="1.25"/>
<circle cx="74.60" cy="260.30" r="5.60" fill="#fdc9a0" stroke="#111" stroke-width="1.25"/>
<circle cx="48.90" cy="273.10" r="5.60" fill="#fdc9a0" stroke="#111" stroke-width="1.25"/>
<circle cx="61.75" cy="273.10" r="5.60" fill="#fdc9a0" stroke="#111" stroke-width="1.25"/>
<circle cx="74.60" cy="273.10" r="5.60" fill="#fdc9a0" stroke="#111" stroke-width="1.25"/>
<circle cx="46.70" cy="233.90" r="2.30" fill="#f4a75c"/>
<circle cx="60.55" cy="237.00" r="2.30" fill="#f4a75c"/>
<circle cx="74.30" cy="233.40" r="2.30" fill="#f4a75c"/>
<circle cx="48.10" cy="248.85" r="2.30" fill="#f4a75c"/>
<circle cx="62.65" cy="248.55" r="2.30" fill="#f4a75c"/>
<circle cx="74.90" cy="248.15" r="2.30" fill="#f4a75c"/>
<circle cx="50.80" cy="259.80" r="2.30" fill="#f4a75c"/>
<circle cx="63.45" cy="259.70" r="2.30" fill="#f4a75c"/>
<circle cx="74.40" cy="261.90" r="2.30" fill="#f4a75c"/>
<circle cx="48.10" cy="271.50" r="2.30" fill="#f4a75c"/>
<circle cx="62.25" cy="273.50" r="2.30" fill="#f4a75c"/>
<circle cx="76.50" cy="273.90" r="2.30" fill="#f4a75c"/>
<text x="84.80" y="246.70" font-size="8.25" fill="#1c1cf4" stroke="#1c1cf4" stroke-width="0.2">Infection &amp; drug selection</text>
<line x1="88.00" y1="251.50" x2="172.00" y2="251.50" stroke="#151515" stroke-width="1.0"/>
<polygon points="177.40,251.50 171.40,253.50 171.40,249.50" fill="#151515"/>
<path d="M138.6,268.2 C139.5,264 141.5,260 144.5,257.6" stroke="#151515" stroke-width="1.1" fill="none"/>
<polygon points="149.00,254.90 145.70,259.77 143.29,256.33" fill="#151515"/>
<path d="M141.46,280.70 L137.30,283.10 L133.14,280.70 L133.14,275.90 L137.30,273.50 L141.46,275.90Z" stroke="#222" stroke-width="1.15" fill="#ffffff"/>
<line x1="141.46" y1="280.70" x2="144.31" y2="282.35" stroke="#222" stroke-width="1.0"/>
<circle cx="144.31" cy="282.35" r="1.10" fill="#111"/>
<line x1="137.30" y1="283.10" x2="137.30" y2="286.40" stroke="#222" stroke-width="1.0"/>
<circle cx="137.30" cy="286.40" r="1.10" fill="#111"/>
<line x1="133.14" y1="280.70" x2="130.29" y2="282.35" stroke="#222" stroke-width="1.0"/>
<circle cx="130.29" cy="282.35" r="1.10" fill="#111"/>
<line x1="133.14" y1="275.90" x2="130.29" y2="274.25" stroke="#222" stroke-width="1.0"/>
<circle cx="130.29" cy="274.25" r="1.10" fill="#111"/>
<line x1="137.30" y1="273.50" x2="137.30" y2="270.20" stroke="#222" stroke-width="1.0"/>
<circle cx="137.30" cy="270.20" r="1.10" fill="#111"/>
<line x1="141.46" y1="275.90" x2="144.31" y2="274.25" stroke="#222" stroke-width="1.0"/>
<circle cx="144.31" cy="274.25" r="1.10" fill="#111"/>
<path d="M134.10,279.72 L134.39,279.94 L134.65,280.10 L134.86,280.14 L135.01,280.05 L135.10,279.82 L135.15,279.49 L135.18,279.13 L135.21,278.78 L135.29,278.51 L135.42,278.37 L135.61,278.37 L135.85,278.49 L136.14,278.70 L136.43,278.92 L136.70,279.11 L136.93,279.19 L137.10,279.15 L137.21,278.96 L137.27,278.66 L137.30,278.30 L137.33,277.94 L137.39,277.64 L137.50,277.45 L137.67,277.41 L137.90,277.49 L138.17,277.68 L138.46,277.90 L138.75,278.11 L138.99,278.23 L139.18,278.23 L139.31,278.09 L139.39,277.82 L139.42,277.47 L139.45,277.11 L139.50,276.78 L139.59,276.55 L139.74,276.46 L139.95,276.50 L140.21,276.66 L140.50,276.88" stroke="#ff30ff" stroke-width="1.0" fill="none"/>
<path d="M132.90,292.90 L130.50,297.06 L125.70,297.06 L123.30,292.90 L125.70,288.74 L130.50,288.74Z" stroke="#222" stroke-width="1.15" fill="#ffffff"/>
<line x1="132.90" y1="292.90" x2="136.20" y2="292.90" stroke="#222" stroke-width="1.0"/>
<circle cx="136.20" cy="292.90" r="1.10" fill="#111"/>
<line x1="130.50" y1="297.06" x2="132.15" y2="299.91" stroke="#222" stroke-width="1.0"/>
<circle cx="132.15" cy="299.91" r="1.10" fill="#111"/>
<line x1="125.70" y1="297.06" x2="124.05" y2="299.91" stroke="#222" stroke-width="1.0"/>
<circle cx="124.05" cy="299.91" r="1.10" fill="#111"/>
<line x1="123.30" y1="292.90" x2="120.00" y2="292.90" stroke="#222" stroke-width="1.0"/>
<circle cx="120.00" cy="292.90" r="1.10" fill="#111"/>
<line x1="125.70" y1="288.74" x2="124.05" y2="285.89" stroke="#222" stroke-width="1.0"/>
<circle cx="124.05" cy="285.89" r="1.10" fill="#111"/>
<line x1="130.50" y1="288.74" x2="132.15" y2="285.89" stroke="#222" stroke-width="1.0"/>
<circle cx="132.15" cy="285.89" r="1.10" fill="#111"/>
<path d="M126.40,289.84 L126.21,290.15 L126.08,290.42 L126.05,290.63 L126.16,290.77 L126.39,290.84 L126.72,290.86 L127.09,290.86 L127.44,290.86 L127.71,290.91 L127.86,291.03 L127.88,291.22 L127.78,291.48 L127.60,291.78 L127.40,292.09 L127.24,292.37 L127.18,292.61 L127.24,292.78 L127.44,292.87 L127.74,292.90 L128.10,292.90 L128.46,292.90 L128.76,292.93 L128.96,293.02 L129.02,293.19 L128.96,293.43 L128.80,293.71 L128.60,294.02 L128.42,294.32 L128.32,294.58 L128.34,294.77 L128.49,294.89 L128.76,294.94 L129.11,294.94 L129.48,294.94 L129.81,294.96 L130.04,295.03 L130.15,295.17 L130.12,295.38 L129.99,295.65 L129.80,295.96" stroke="#30b060" stroke-width="1.0" fill="none"/>
<path d="M152.71,293.96 L151.88,298.69 L147.37,300.33 L143.69,297.24 L144.52,292.51 L149.03,290.87Z" stroke="#222" stroke-width="1.15" fill="#ffffff"/>
<line x1="152.71" y1="293.96" x2="155.81" y2="292.83" stroke="#222" stroke-width="1.0"/>
<circle cx="155.81" cy="292.83" r="1.10" fill="#111"/>
<line x1="151.88" y1="298.69" x2="154.40" y2="300.81" stroke="#222" stroke-width="1.0"/>
<circle cx="154.40" cy="300.81" r="1.10" fill="#111"/>
<line x1="147.37" y1="300.33" x2="146.79" y2="303.58" stroke="#222" stroke-width="1.0"/>
<circle cx="146.79" cy="303.58" r="1.10" fill="#111"/>
<line x1="143.69" y1="297.24" x2="140.59" y2="298.37" stroke="#222" stroke-width="1.0"/>
<circle cx="140.59" cy="298.37" r="1.10" fill="#111"/>
<line x1="144.52" y1="292.51" x2="142.00" y2="290.39" stroke="#222" stroke-width="1.0"/>
<circle cx="142.00" cy="290.39" r="1.10" fill="#111"/>
<line x1="149.03" y1="290.87" x2="149.61" y2="287.62" stroke="#222" stroke-width="1.0"/>
<circle cx="149.61" cy="287.62" r="1.10" fill="#111"/>
<path d="M145.37,297.66 L145.70,297.81 L145.98,297.91 L146.20,297.91 L146.33,297.78 L146.37,297.54 L146.35,297.22 L146.30,296.85 L146.26,296.50 L146.28,296.23 L146.37,296.06 L146.56,296.02 L146.83,296.09 L147.14,296.23 L147.48,296.39 L147.78,296.51 L148.02,296.55 L148.18,296.47 L148.25,296.26 L148.25,295.96 L148.20,295.60 L148.15,295.24 L148.15,294.94 L148.22,294.73 L148.38,294.65 L148.62,294.69 L148.92,294.81 L149.26,294.97 L149.57,295.11 L149.84,295.18 L150.03,295.14 L150.12,294.97 L150.14,294.70 L150.10,294.35 L150.05,293.98 L150.03,293.66 L150.07,293.42 L150.20,293.29 L150.42,293.29 L150.70,293.39 L151.03,293.54" stroke="#2040ff" stroke-width="1.0" fill="none"/>
<text stroke="#151515" stroke-width="0.2" x="98.1" y="315.6" font-size="9.55" fill="#151515">MyoCRISPR-KO<tspan font-size="5.4" dy="-3.4">Lib</tspan></text>
<text x="104.20" y="326.70" font-size="9.6" fill="#151515" stroke="#151515" stroke-width="0.2">(21,396 gRNAs)</text>
<text x="218.60" y="217.10" font-size="9.0" fill="#151515" stroke="#151515" stroke-width="0.2">Evolution of gRNA abundance during myoblast fitness screen (growth medium condition)</text>
<line x1="185.80" y1="222.60" x2="603.60" y2="222.60" stroke="#d4a373" stroke-width="1.6"/>
<circle cx="188.00" cy="234.60" r="5.60" fill="#fdc9a0" stroke="#111" stroke-width="1.25"/>
<circle cx="200.85" cy="234.60" r="5.60" fill="#fdc9a0" stroke="#111" stroke-width="1.25"/>
<circle cx="213.70" cy="234.60" r="5.60" fill="#fdc9a0" stroke="#111" stroke-width="1.25"/>
<circle cx="188.00" cy="247.45" r="5.60" fill="#fdc9a0" stroke="#111" stroke-width="1.25"/>
<circle cx="200.85" cy="247.45" r="5.60" fill="#fdc9a0" stroke="#111" stroke-width="1.25"/>
<circle cx="213.70" cy="247.45" r="5.60" fill="#fdc9a0" stroke="#111" stroke-width="1.25"/>
<circle cx="188.00" cy="260.30" r="5.60" fill="#fdc9a0" stroke="#111" stroke-width="1.25"/>
<circle cx="200.85" cy="260.30" r="5.60" fill="#fdc9a0" stroke="#111" stroke-width="1.25"/>
<circle cx="213.70" cy="260.30" r="5.60" fill="#fdc9a0" stroke="#111" stroke-width="1.25"/>
<circle cx="188.00" cy="273.10" r="5.60" fill="#fdc9a0" stroke="#111" stroke-width="1.25"/>
<circle cx="200.85" cy="273.10" r="5.60" fill="#fdc9a0" stroke="#111" stroke-width="1.25"/>
<circle cx="213.70" cy="273.10" r="5.60" fill="#fdc9a0" stroke="#111" stroke-width="1.25"/>
<circle cx="185.80" cy="233.90" r="2.60" fill="#ff00ff"/>
<circle cx="199.65" cy="237.00" r="2.60" fill="#00aa50"/>
<circle cx="213.40" cy="233.40" r="2.60" fill="#0000ff"/>
<circle cx="187.20" cy="248.85" r="2.60" fill="#00aa50"/>
<circle cx="201.75" cy="248.55" r="2.60" fill="#ff00ff"/>
<circle cx="214.00" cy="248.15" r="2.60" fill="#00aa50"/>
<circle cx="189.90" cy="259.80" r="2.60" fill="#0000ff"/>
<circle cx="202.55" cy="259.70" r="2.60" fill="#0000ff"/>
<circle cx="213.50" cy="261.90" r="2.60" fill="#ff00ff"/>
<circle cx="187.20" cy="271.50" r="2.60" fill="#00aa50"/>
<circle cx="201.35" cy="273.50" r="2.60" fill="#ff00ff"/>
<circle cx="215.60" cy="273.90" r="2.60" fill="#0000ff"/>
<circle cx="284.70" cy="234.60" r="5.60" fill="#fdc9a0" stroke="#111" stroke-width="1.25"/>
<circle cx="297.55" cy="234.60" r="5.60" fill="#fdc9a0" stroke="#111" stroke-width="1.25"/>
<circle cx="310.40" cy="234.60" r="5.60" fill="#fdc9a0" stroke="#111" stroke-width="1.25"/>
<circle cx="284.70" cy="247.45" r="5.60" fill="#fdc9a0" stroke="#111" stroke-width="1.25"/>
<circle cx="297.55" cy="247.45" r="5.60" fill="#fdc9a0" stroke="#111" stroke-width="1.25"/>
<circle cx="310.40" cy="247.45" r="5.60" fill="#fdc9a0" stroke="#111" stroke-width="1.25"/>
<circle cx="284.70" cy="260.30" r="5.60" fill="#fdc9a0" stroke="#111" stroke-width="1.25"/>
<circle cx="297.55" cy="260.30" r="5.60" fill="#fdc9a0" stroke="#111" stroke-width="1.25"/>
<circle cx="310.40" cy="260.30" r="5.60" fill="#fdc9a0" stroke="#111" stroke-width="1.25"/>
<circle cx="284.70" cy="273.10" r="5.60" fill="#fdc9a0" stroke="#111" stroke-width="1.25"/>
<circle cx="297.55" cy="273.10" r="5.60" fill="#fdc9a0" stroke="#111" stroke-width="1.25"/>
<circle cx="310.40" cy="273.10" r="5.60" fill="#fdc9a0" stroke="#111" stroke-width="1.25"/>
<circle cx="282.50" cy="233.90" r="2.60" fill="#ff00ff"/>
<circle cx="296.35" cy="237.00" r="2.60" fill="#00aa50"/>
<circle cx="310.10" cy="233.40" r="2.60" fill="#0000ff"/>
<circle cx="283.90" cy="248.85" r="2.60" fill="#ff00ff"/>
<circle cx="298.45" cy="248.55" r="2.60" fill="#ff00ff"/>
<circle cx="310.70" cy="248.15" r="2.60" fill="#00aa50"/>
<circle cx="286.60" cy="259.80" r="2.60" fill="#0000ff"/>
<circle cx="299.25" cy="259.70" r="2.60" fill="#0000ff"/>
<circle cx="310.20" cy="261.90" r="2.60" fill="#ff00ff"/>
<circle cx="283.90" cy="271.50" r="2.60" fill="#00aa50"/>
<circle cx="298.05" cy="273.50" r="2.60" fill="#ff00ff"/>
<circle cx="312.30" cy="273.90" r="2.60" fill="#0000ff"/>
<circle cx="381.60" cy="234.60" r="5.60" fill="#fdc9a0" stroke="#111" stroke-width="1.25"/>
<circle cx="394.45" cy="234.60" r="5.60" fill="#fdc9a0" stroke="#111" stroke-width="1.25"/>
<circle cx="407.30" cy="234.60" r="5.60" fill="#fdc9a0" stroke="#111" stroke-width="1.25"/>
<circle cx="381.60" cy="247.45" r="5.60" fill="#fdc9a0" stroke="#111" stroke-width="1.25"/>
<circle cx="394.45" cy="247.45" r="5.60" fill="#fdc9a0" stroke="#111" stroke-width="1.25"/>
<circle cx="407.30" cy="247.45" r="5.60" fill="#fdc9a0" stroke="#111" stroke-width="1.25"/>
<circle cx="381.60" cy="260.30" r="5.60" fill="#fdc9a0" stroke="#111" stroke-width="1.25"/>
<circle cx="394.45" cy="260.30" r="5.60" fill="#fdc9a0" stroke="#111" stroke-width="1.25"/>
<circle cx="407.30" cy="260.30" r="5.60" fill="#fdc9a0" stroke="#111" stroke-width="1.25"/>
<circle cx="381.60" cy="273.10" r="5.60" fill="#fdc9a0" stroke="#111" stroke-width="1.25"/>
<circle cx="394.45" cy="273.10" r="5.60" fill="#fdc9a0" stroke="#111" stroke-width="1.25"/>
<circle cx="407.30" cy="273.10" r="5.60" fill="#fdc9a0" stroke="#111" stroke-width="1.25"/>
<circle cx="379.40" cy="233.90" r="2.60" fill="#ff00ff"/>
<circle cx="393.25" cy="237.00" r="2.60" fill="#ff00ff"/>
<circle cx="407.00" cy="233.40" r="2.60" fill="#0000ff"/>
<circle cx="380.80" cy="248.85" r="2.60" fill="#ff00ff"/>
<circle cx="395.35" cy="248.55" r="2.60" fill="#ff00ff"/>
<circle cx="407.60" cy="248.15" r="2.60" fill="#00aa50"/>
<circle cx="383.50" cy="259.80" r="2.60" fill="#0000ff"/>
<circle cx="396.15" cy="259.70" r="2.60" fill="#0000ff"/>
<circle cx="407.10" cy="261.90" r="2.60" fill="#ff00ff"/>
<circle cx="380.80" cy="271.50" r="2.60" fill="#00aa50"/>
<circle cx="394.95" cy="273.50" r="2.60" fill="#ff00ff"/>
<circle cx="409.20" cy="273.90" r="2.60" fill="#0000ff"/>
<circle cx="478.30" cy="234.60" r="5.60" fill="#fdc9a0" stroke="#111" stroke-width="1.25"/>
<circle cx="491.15" cy="234.60" r="5.60" fill="#fdc9a0" stroke="#111" stroke-width="1.25"/>
<circle cx="504.00" cy="234.60" r="5.60" fill="#fdc9a0" stroke="#111" stroke-width="1.25"/>
<circle cx="478.30" cy="247.45" r="5.60" fill="#fdc9a0" stroke="#111" stroke-width="1.25"/>
<circle cx="491.15" cy="247.45" r="5.60" fill="#fdc9a0" stroke="#111" stroke-width="1.25"/>
<circle cx="504.00" cy="247.45" r="5.60" fill="#fdc9a0" stroke="#111" stroke-width="1.25"/>
<circle cx="478.30" cy="260.30" r="5.60" fill="#fdc9a0" stroke="#111" stroke-width="1.25"/>
<circle cx="491.15" cy="260.30" r="5.60" fill="#fdc9a0" stroke="#111" stroke-width="1.25"/>
<circle cx="504.00" cy="260.30" r="5.60" fill="#fdc9a0" stroke="#111" stroke-width="1.25"/>
<circle cx="478.30" cy="273.10" r="5.60" fill="#fdc9a0" stroke="#111" stroke-width="1.25"/>
<circle cx="491.15" cy="273.10" r="5.60" fill="#fdc9a0" stroke="#111" stroke-width="1.25"/>
<circle cx="504.00" cy="273.10" r="5.60" fill="#fdc9a0" stroke="#111" stroke-width="1.25"/>
<circle cx="476.10" cy="233.90" r="2.60" fill="#ff00ff"/>
<circle cx="489.95" cy="237.00" r="2.60" fill="#ff00ff"/>
<circle cx="503.70" cy="233.40" r="2.60" fill="#0000ff"/>
<circle cx="477.50" cy="248.85" r="2.60" fill="#ff00ff"/>
<circle cx="492.05" cy="248.55" r="2.60" fill="#ff00ff"/>
<circle cx="504.30" cy="248.15" r="2.60" fill="#ff00ff"/>
<circle cx="480.20" cy="259.80" r="2.60" fill="#0000ff"/>
<circle cx="492.85" cy="259.70" r="2.60" fill="#0000ff"/>
<circle cx="503.80" cy="261.90" r="2.60" fill="#ff00ff"/>
<circle cx="477.50" cy="271.50" r="2.60" fill="#00aa50"/>
<circle cx="491.65" cy="273.50" r="2.60" fill="#ff00ff"/>
<circle cx="505.90" cy="273.90" r="2.60" fill="#0000ff"/>
<circle cx="575.30" cy="234.60" r="5.60" fill="#fdc9a0" stroke="#111" stroke-width="1.25"/>
<circle cx="588.15" cy="234.60" r="5.60" fill="#fdc9a0" stroke="#111" stroke-width="1.25"/>
<circle cx="601.00" cy="234.60" r="5.60" fill="#fdc9a0" stroke="#111" stroke-width="1.25"/>
<circle cx="575.30" cy="247.45" r="5.60" fill="#fdc9a0" stroke="#111" stroke-width="1.25"/>
<circle cx="588.15" cy="247.45" r="5.60" fill="#fdc9a0" stroke="#111" stroke-width="1.25"/>
<circle cx="601.00" cy="247.45" r="5.60" fill="#fdc9a0" stroke="#111" stroke-width="1.25"/>
<circle cx="575.30" cy="260.30" r="5.60" fill="#fdc9a0" stroke="#111" stroke-width="1.25"/>
<circle cx="588.15" cy="260.30" r="5.60" fill="#fdc9a0" stroke="#111" stroke-width="1.25"/>
<circle cx="601.00" cy="260.30" r="5.60" fill="#fdc9a0" stroke="#111" stroke-width="1.25"/>
<circle cx="575.30" cy="273.10" r="5.60" fill="#fdc9a0" stroke="#111" stroke-width="1.25"/>
<circle cx="588.15" cy="273.10" r="5.60" fill="#fdc9a0" stroke="#111" stroke-width="1.25"/>
<circle cx="601.00" cy="273.10" r="5.60" fill="#fdc9a0" stroke="#111" stroke-width="1.25"/>
<circle cx="573.10" cy="233.90" r="2.60" fill="#ff00ff"/>
<circle cx="586.95" cy="237.00" r="2.60" fill="#ff00ff"/>
<circle cx="600.70" cy="233.40" r="2.60" fill="#0000ff"/>
<circle cx="574.50" cy="248.85" r="2.60" fill="#ff00ff"/>
<circle cx="589.05" cy="248.55" r="2.60" fill="#ff00ff"/>
<circle cx="601.30" cy="248.15" r="2.60" fill="#ff00ff"/>
<circle cx="577.20" cy="259.80" r="2.60" fill="#0000ff"/>
<circle cx="589.85" cy="259.70" r="2.60" fill="#0000ff"/>
<circle cx="600.80" cy="261.90" r="2.60" fill="#ff00ff"/>
<circle cx="574.50" cy="271.50" r="2.60" fill="#ff00ff"/>
<circle cx="588.65" cy="273.50" r="2.60" fill="#ff00ff"/>
<circle cx="602.90" cy="273.90" r="2.60" fill="#0000ff"/>
<line x1="224.50" y1="251.60" x2="270.10" y2="251.60" stroke="#151515" stroke-width="1.0"/>
<polygon points="274.10,251.60 268.10,253.60 268.10,249.60" fill="#151515"/>
<text x="250.80" y="246.50" font-size="9.3" text-anchor="middle" fill="#1c1cf4" stroke="#1c1cf4" stroke-width="0.2">Split</text>
<path d="M237.70,251.6 C242.70,253 246.70,258 247.20,266" stroke="#151515" stroke-width="1.1" fill="none"/>
<path d="M244.88,263.68 L247.30,267.00 L249.48,263.52" stroke="#151515" stroke-width="1.2" fill="none"/>
<text x="249.80" y="277.90" font-size="9.6" text-anchor="middle" fill="#151515" stroke="#151515" stroke-width="0.2">T1</text>
<line x1="248.50" y1="280.10" x2="248.50" y2="288.60" stroke="#c4c4c4" stroke-width="1.4"/>
<line x1="321.20" y1="251.60" x2="367.00" y2="251.60" stroke="#151515" stroke-width="1.0"/>
<polygon points="371.00,251.60 365.00,253.60 365.00,249.60" fill="#151515"/>
<text x="347.60" y="246.50" font-size="9.3" text-anchor="middle" fill="#1c1cf4" stroke="#1c1cf4" stroke-width="0.2">Split</text>
<path d="M334.40,251.6 C339.40,253 343.40,258 343.90,266" stroke="#151515" stroke-width="1.1" fill="none"/>
<path d="M341.58,263.68 L344.00,267.00 L346.18,263.52" stroke="#151515" stroke-width="1.2" fill="none"/>
<text x="345.10" y="277.90" font-size="9.6" text-anchor="middle" fill="#151515" stroke="#151515" stroke-width="0.2">T2</text>
<line x1="345.00" y1="280.10" x2="345.00" y2="288.60" stroke="#c4c4c4" stroke-width="1.4"/>
<line x1="418.10" y1="251.60" x2="463.70" y2="251.60" stroke="#151515" stroke-width="1.0"/>
<polygon points="467.70,251.60 461.70,253.60 461.70,249.60" fill="#151515"/>
<text x="444.40" y="246.50" font-size="9.3" text-anchor="middle" fill="#1c1cf4" stroke="#1c1cf4" stroke-width="0.2">Split</text>
<path d="M431.30,251.6 C436.30,253 440.30,258 440.80,266" stroke="#151515" stroke-width="1.1" fill="none"/>
<path d="M438.48,263.68 L440.90,267.00 L443.08,263.52" stroke="#151515" stroke-width="1.2" fill="none"/>
<text x="440.45" y="277.90" font-size="9.6" text-anchor="middle" fill="#151515" stroke="#151515" stroke-width="0.2">T3</text>
<line x1="440.00" y1="280.10" x2="440.00" y2="288.60" stroke="#c4c4c4" stroke-width="1.4"/>
<line x1="514.80" y1="251.60" x2="560.70" y2="251.60" stroke="#151515" stroke-width="1.0"/>
<polygon points="564.70,251.60 558.70,253.60 558.70,249.60" fill="#151515"/>
<text x="541.25" y="246.50" font-size="9.3" text-anchor="middle" fill="#1c1cf4" stroke="#1c1cf4" stroke-width="0.2">Split</text>
<path d="M528.00,251.6 C533.00,253 537.00,258 537.50,266" stroke="#151515" stroke-width="1.1" fill="none"/>
<path d="M535.18,263.68 L537.60,267.00 L539.78,263.52" stroke="#151515" stroke-width="1.2" fill="none"/>
<text x="535.95" y="277.90" font-size="9.6" text-anchor="middle" fill="#151515" stroke="#151515" stroke-width="0.2">T4</text>
<line x1="535.00" y1="280.10" x2="535.00" y2="288.60" stroke="#c4c4c4" stroke-width="1.4"/>
<path d="M610.2,252.4 C617,254 624,258 627.8,265.5" stroke="#151515" stroke-width="1.1" fill="none"/>
<path d="M624.97,265.08 L628.60,267.00 L629.03,262.92" stroke="#151515" stroke-width="1.2" fill="none"/>
<text x="630.90" y="277.90" font-size="9.6" text-anchor="middle" fill="#151515" stroke="#151515" stroke-width="0.2">T5</text>
<line x1="248.50" y1="288.60" x2="630.60" y2="288.60" stroke="#dcdcdc" stroke-width="1.5"/>
<line x1="630.60" y1="280.30" x2="630.60" y2="304.60" stroke="#808080" stroke-width="1.0"/>
<path d="M628.30,301.80 L630.60,305.00 L632.90,301.80" stroke="#808080" stroke-width="1.0" fill="none"/>
<line x1="630.60" y1="330.30" x2="630.60" y2="346.00" stroke="#808080" stroke-width="1.0"/>
<path d="M628.30,343.20 L630.60,346.40 L632.90,343.20" stroke="#808080" stroke-width="1.0" fill="none"/>
<rect x="596.4" y="305.4" width="64.8" height="24.9" fill="none" stroke="#909090" stroke-width="0.9" stroke-dasharray="1.2,1.2"/>
<rect x="600.5" y="346.9" width="60.7" height="14.6" fill="none" stroke="#909090" stroke-width="0.9" stroke-dasharray="1.2,1.2"/>
<text x="628.80" y="315.80" font-size="8.35" text-anchor="middle" fill="#1c1cf4" stroke="#1c1cf4" stroke-width="0.2">gRNA readout</text>
<text x="630.40" y="325.80" font-size="8.6" text-anchor="middle" fill="#1c1cf4" stroke="#1c1cf4" stroke-width="0.2">PCR</text>
<text x="631.00" y="356.90" font-size="8.45" text-anchor="middle" fill="#1c1cf4" stroke="#1c1cf4" stroke-width="0.2">Sequencing</text>
<line x1="569.10" y1="317.30" x2="576.70" y2="317.30" stroke="#ff40ff" stroke-width="1.0"/>
<line x1="561.50" y1="320.00" x2="568.90" y2="320.00" stroke="#ff90ff" stroke-width="1.4"/>
<line x1="577.20" y1="320.00" x2="584.80" y2="320.00" stroke="#8080ff" stroke-width="1.4"/>
<line x1="569.90" y1="323.40" x2="577.10" y2="323.40" stroke="#5050ff" stroke-width="1.2"/>
<line x1="555.70" y1="324.40" x2="562.90" y2="324.40" stroke="#ff30ff" stroke-width="1.0"/>
<line x1="578.90" y1="325.30" x2="586.10" y2="325.30" stroke="#ff40ff" stroke-width="1.0"/>
<line x1="567.30" y1="327.30" x2="574.90" y2="327.30" stroke="#2020ff" stroke-width="1.0"/>
<line x1="566.10" y1="334.60" x2="573.30" y2="334.60" stroke="#ff80ff" stroke-width="1.2"/>
<line x1="561.70" y1="337.50" x2="569.10" y2="337.50" stroke="#ff30ff" stroke-width="1.0"/>
<line x1="576.40" y1="337.50" x2="584.00" y2="337.50" stroke="#2020ff" stroke-width="1.0"/>
<line x1="566.50" y1="340.40" x2="573.90" y2="340.40" stroke="#2020ff" stroke-width="1.0"/>
<line x1="556.80" y1="342.20" x2="564.10" y2="342.20" stroke="#ff30ff" stroke-width="1.0"/>
<line x1="578.20" y1="342.70" x2="585.60" y2="342.70" stroke="#ff60ff" stroke-width="1.1"/>
<line x1="568.80" y1="345.00" x2="575.90" y2="345.00" stroke="#80c080" stroke-width="1.3"/>
<rect x="223.5" y="294.6" width="283.4" height="79.7" fill="none" stroke="#8a8a8a" stroke-width="1"/>
<text x="228.60" y="306.60" font-size="10.4" font-weight="bold" fill="#151515">d’</text>
<text x="247.60" y="310.90" font-size="8.25" font-weight="bold" fill="#151515">Potential result &amp; interpretation</text>
<path d="M229.5,323.50 L231.1,325.20 L234.2,321.30" stroke="#10b050" stroke-width="1.05" fill="none"/>
<path d="M229.5,337.00 L231.1,338.70 L234.2,334.80" stroke="#2020e0" stroke-width="1.05" fill="none"/>
<path d="M229.5,350.60 L231.1,352.30 L234.2,348.40" stroke="#ff10ff" stroke-width="1.05" fill="none"/>
<text x="238.90" y="324.60" font-size="8.35" fill="#151515" stroke="#151515" stroke-width="0.2">Genes essential for cell fitness &amp; cycle</text>
<text x="238.90" y="338.10" font-size="8.35" fill="#151515" stroke="#151515" stroke-width="0.2">Genes not involved in cell fitness &amp; cycle</text>
<text x="238.90" y="351.60" font-size="8.35" fill="#151515" stroke="#151515" stroke-width="0.2">Negative regulators of cell fitness &amp; cycle</text>
<line x1="431.40" y1="358.40" x2="431.40" y2="302.50" stroke="#808080" stroke-width="1.0"/>
<polygon points="431.40,299.00 433.10,303.50 429.70,303.50" fill="#808080"/>
<line x1="431.40" y1="358.40" x2="495.00" y2="358.40" stroke="#808080" stroke-width="1.0"/>
<polygon points="498.60,358.40 494.10,360.10 494.10,356.70" fill="#808080"/>
<line x1="429.20" y1="315.00" x2="431.40" y2="315.00" stroke="#808080" stroke-width="0.9"/>
<line x1="429.20" y1="323.60" x2="431.40" y2="323.60" stroke="#808080" stroke-width="0.9"/>
<line x1="429.20" y1="333.20" x2="431.40" y2="333.20" stroke="#808080" stroke-width="0.9"/>
<line x1="429.20" y1="342.60" x2="431.40" y2="342.60" stroke="#808080" stroke-width="0.9"/>
<line x1="429.20" y1="351.40" x2="431.40" y2="351.40" stroke="#808080" stroke-width="0.9"/>
<line x1="440.40" y1="358.40" x2="440.40" y2="360.80" stroke="#808080" stroke-width="0.9"/>
<text x="440.40" y="370.60" font-size="7.5" text-anchor="middle" fill="#151515" stroke="#151515" stroke-width="0.2">T1</text>
<line x1="452.40" y1="358.40" x2="452.40" y2="360.80" stroke="#808080" stroke-width="0.9"/>
<text x="452.40" y="370.60" font-size="7.5" text-anchor="middle" fill="#151515" stroke="#151515" stroke-width="0.2">T2</text>
<line x1="464.70" y1="358.40" x2="464.70" y2="360.80" stroke="#808080" stroke-width="0.9"/>
<text x="464.70" y="370.60" font-size="7.5" text-anchor="middle" fill="#151515" stroke="#151515" stroke-width="0.2">T3</text>
<line x1="476.80" y1="358.40" x2="476.80" y2="360.80" stroke="#808080" stroke-width="0.9"/>
<text x="476.80" y="370.60" font-size="7.5" text-anchor="middle" fill="#151515" stroke="#151515" stroke-width="0.2">T4</text>
<line x1="489.20" y1="358.40" x2="489.20" y2="360.80" stroke="#808080" stroke-width="0.9"/>
<text x="489.20" y="370.60" font-size="7.5" text-anchor="middle" fill="#151515" stroke="#151515" stroke-width="0.2">T5</text>
<text stroke="#151515" stroke-width="0.2" transform="translate(424.3,327.6) rotate(-90)" font-size="8.35" text-anchor="middle" fill="#151515">gRNA counts (%)</text>
<line x1="440.00" y1="333.40" x2="489.50" y2="333.40" stroke="#5050ff" stroke-width="1.0"/>
<path d="M440.00,311.70 L440.99,314.92 L441.98,317.89 L442.97,320.63 L443.96,323.15 L444.95,325.48 L445.94,327.62 L446.93,329.60 L447.92,331.43 L448.91,333.11 L449.90,334.66 L450.89,336.09 L451.88,337.41 L452.87,338.62 L453.86,339.75 L454.85,340.78 L455.84,341.73 L456.83,342.61 L457.82,343.42 L458.81,344.17 L459.80,344.86 L460.79,345.49 L461.78,346.08 L462.77,346.62 L463.76,347.11 L464.75,347.57 L465.74,348.00 L466.73,348.39 L467.72,348.75 L468.71,349.08 L469.70,349.38 L470.69,349.67 L471.68,349.93 L472.67,350.17 L473.66,350.39 L474.65,350.59 L475.64,350.78 L476.63,350.95 L477.62,351.11 L478.61,351.26 L479.60,351.39 L480.59,351.52 L481.58,351.63 L482.57,351.74 L483.56,351.84 L484.55,351.93 L485.54,352.01 L486.53,352.09 L487.52,352.16 L488.51,352.23 L489.50,352.29" stroke="#18b060" stroke-width="1.0" fill="none"/>
<path d="M440.00,351.20 L440.99,348.69 L441.98,346.33 L442.97,344.11 L443.96,342.03 L444.95,340.07 L445.94,338.24 L446.93,336.51 L447.92,334.90 L448.91,333.38 L449.90,331.95 L450.89,330.61 L451.88,329.35 L452.87,328.17 L453.86,327.06 L454.85,326.02 L455.84,325.04 L456.83,324.13 L457.82,323.26 L458.81,322.46 L459.80,321.69 L460.79,320.98 L461.78,320.31 L462.77,319.68 L463.76,319.09 L464.75,318.54 L465.74,318.02 L466.73,317.53 L467.72,317.07 L468.71,316.64 L469.70,316.23 L470.69,315.85 L471.68,315.49 L472.67,315.16 L473.66,314.84 L474.65,314.55 L475.64,314.27 L476.63,314.01 L477.62,313.77 L478.61,313.54 L479.60,313.32 L480.59,313.12 L481.58,312.93 L482.57,312.75 L483.56,312.58 L484.55,312.42 L485.54,312.28 L486.53,312.14 L487.52,312.01 L488.51,311.88 L489.50,311.77" stroke="#ff20ff" stroke-width="1.0" fill="none"/>
<circle cx="440.00" cy="311.70" r="1.70" fill="#10a850"/>
<circle cx="489.50" cy="352.30" r="1.70" fill="#10a850"/>
<circle cx="440.00" cy="351.20" r="1.70" fill="#ff10ff"/>
<circle cx="489.50" cy="312.00" r="1.70" fill="#ff10ff"/>
<circle cx="439.50" cy="333.40" r="1.70" fill="#0000ff"/>
<circle cx="489.50" cy="333.40" r="1.70" fill="#0000ff"/>
<text x="12.30" y="383.00" font-size="12" font-weight="bold" fill="#151515">e</text>
<text stroke="#d42a35" stroke-width="0.2" x="14.2" y="401.6" font-size="9.7" fill="#d42a35">Top 3 pathways of 419 negative hits (genes) from myobalst fitness screen</text>
<line x1="114.20" y1="402.70" x2="150.80" y2="402.70" stroke="#d42a35" stroke-width="0.9"/>
<text x="36.10" y="421.10" font-size="8.3" font-weight="bold" fill="#151515">KEGG Pathways</text>
<text x="114.30" y="421.10" font-size="8.3" font-weight="bold" fill="#151515">Count in network</text>
<text x="193.80" y="421.10" font-size="8.3" font-weight="bold" fill="#151515">Strength</text>
<text x="240.70" y="421.10" font-size="8.3" font-weight="bold" fill="#151515">False discvoery rate</text>
<line x1="36.80" y1="425.30" x2="312.00" y2="425.30" stroke="#6a6a6a" stroke-width="0.9"/>
<line x1="36.80" y1="436.60" x2="312.00" y2="436.60" stroke="#a0a0a0" stroke-width="0.9"/>
<line x1="36.80" y1="448.40" x2="312.00" y2="448.40" stroke="#a0a0a0" stroke-width="0.9"/>
<line x1="36.80" y1="459.40" x2="312.00" y2="459.40" stroke="#6a6a6a" stroke-width="0.9"/>
<text x="66.90" y="432.80" font-size="8.2" text-anchor="middle" fill="#2a2a2a" stroke="#2a2a2a" stroke-width="0.2">Ribosome</text>
<text x="144.60" y="432.80" font-size="8.2" text-anchor="middle" fill="#2a2a2a" stroke="#2a2a2a" stroke-width="0.2">56 of 131</text>
<text x="209.00" y="432.80" font-size="8.2" text-anchor="middle" fill="#2a2a2a" stroke="#2a2a2a" stroke-width="0.2">1.3</text>
<text x="277.00" y="432.80" font-size="8.2" text-anchor="middle" fill="#2a2a2a" stroke="#2a2a2a" stroke-width="0.2">1.06e-46</text>
<text x="66.90" y="444.50" font-size="8.2" text-anchor="middle" fill="#2a2a2a" stroke="#2a2a2a" stroke-width="0.2">Spliceosome</text>
<text x="144.60" y="444.50" font-size="8.2" text-anchor="middle" fill="#2a2a2a" stroke="#2a2a2a" stroke-width="0.2">39 of 132</text>
<text x="209.40" y="444.50" font-size="8.2" text-anchor="middle" fill="#2a2a2a" stroke="#2a2a2a" stroke-width="0.2">1.14</text>
<text x="277.00" y="444.50" font-size="8.2" text-anchor="middle" fill="#2a2a2a" stroke="#2a2a2a" stroke-width="0.2">3.17e-27</text>
<text x="67.00" y="455.90" font-size="8.2" text-anchor="middle" fill="#2a2a2a" stroke="#2a2a2a" stroke-width="0.2">RNA transport</text>
<text x="144.60" y="455.90" font-size="8.2" text-anchor="middle" fill="#2a2a2a" stroke="#2a2a2a" stroke-width="0.2">31 of 161</text>
<text x="209.40" y="455.90" font-size="8.2" text-anchor="middle" fill="#2a2a2a" stroke="#2a2a2a" stroke-width="0.2">0.96</text>
<text x="277.00" y="455.90" font-size="8.2" text-anchor="middle" fill="#2a2a2a" stroke="#2a2a2a" stroke-width="0.2">6.99e-17</text>
<text x="344.60" y="387.30" font-size="12" font-weight="bold" fill="#151515">g</text>
<text stroke="#d42a35" stroke-width="0.2" x="367.1" y="401.5" font-size="9.7" fill="#d42a35">Top 3 pathways of 47 positive hits (genes) from myobalst fitness screen</text>
<line x1="461.30" y1="402.60" x2="497.20" y2="402.60" stroke="#d42a35" stroke-width="0.9"/>
<text x="393.90" y="421.10" font-size="8.3" font-weight="bold" fill="#151515">KEGG Pathways</text>
<text x="465.40" y="421.10" font-size="8.3" font-weight="bold" fill="#151515">Count in network</text>
<text x="547.20" y="421.10" font-size="8.3" font-weight="bold" fill="#151515">Strength</text>
<text x="592.50" y="421.10" font-size="8.3" font-weight="bold" fill="#151515">False discvoery rate</text>
<line x1="389.30" y1="425.30" x2="665.00" y2="425.30" stroke="#6a6a6a" stroke-width="0.9"/>
<line x1="389.30" y1="436.60" x2="665.00" y2="436.60" stroke="#a0a0a0" stroke-width="0.9"/>
<line x1="389.30" y1="448.40" x2="665.00" y2="448.40" stroke="#a0a0a0" stroke-width="0.9"/>
<line x1="389.30" y1="459.40" x2="665.00" y2="459.40" stroke="#6a6a6a" stroke-width="0.9"/>
<text x="424.90" y="432.80" font-size="8.2" text-anchor="middle" fill="#2a2a2a" stroke="#2a2a2a" stroke-width="0.2">Pathways in cancer</text>
<text x="495.80" y="432.80" font-size="8.2" text-anchor="middle" fill="#2a2a2a" stroke="#2a2a2a" stroke-width="0.2">8 of 515</text>
<text x="562.90" y="432.80" font-size="8.2" text-anchor="middle" fill="#2a2a2a" stroke="#2a2a2a" stroke-width="0.2">0.82</text>
<text x="629.10" y="432.80" font-size="8.2" text-anchor="middle" fill="#2a2a2a" stroke="#2a2a2a" stroke-width="0.2">0.00079</text>
<text x="424.70" y="444.50" font-size="8.2" text-anchor="middle" fill="#2a2a2a" stroke="#2a2a2a" stroke-width="0.2">Viral carinogenesis</text>
<text x="495.80" y="444.50" font-size="8.2" text-anchor="middle" fill="#2a2a2a" stroke="#2a2a2a" stroke-width="0.2">7 of 183</text>
<text x="562.80" y="444.50" font-size="8.2" text-anchor="middle" fill="#2a2a2a" stroke="#2a2a2a" stroke-width="0.2">1.21</text>
<text x="629.00" y="444.50" font-size="8.2" text-anchor="middle" fill="#2a2a2a" stroke="#2a2a2a" stroke-width="0.2">8.96e-05</text>
<text x="424.50" y="455.90" font-size="8.2" text-anchor="middle" fill="#2a2a2a" stroke="#2a2a2a" stroke-width="0.2">Cell cycle</text>
<text x="495.80" y="455.90" font-size="8.2" text-anchor="middle" fill="#2a2a2a" stroke="#2a2a2a" stroke-width="0.2">6 of 120</text>
<text x="563.00" y="455.90" font-size="8.2" text-anchor="middle" fill="#2a2a2a" stroke="#2a2a2a" stroke-width="0.2">1.33</text>
<text x="629.00" y="455.90" font-size="8.2" text-anchor="middle" fill="#2a2a2a" stroke="#2a2a2a" stroke-width="0.2">8.96e-05</text>
<text x="17.30" y="474.70" font-size="12" font-weight="bold" fill="#151515">f</text>
<text x="345.20" y="474.50" font-size="12" font-weight="bold" fill="#151515">h</text>
<text x="103.75" y="484.00" font-size="9.7" text-anchor="middle" fill="#595959" stroke="#595959" stroke-width="0.2">RPL23A</text>
<line x1="55.50" y1="493.60" x2="55.50" y2="590.80" stroke="#222" stroke-width="1.1"/>
<line x1="52.90" y1="590.80" x2="55.50" y2="590.80" stroke="#222" stroke-width="1.0"/>
<text x="47.90" y="593.60" font-size="7.8" text-anchor="end" fill="#595959" stroke="#595959" stroke-width="0.2">0</text>
<line x1="52.90" y1="574.60" x2="55.50" y2="574.60" stroke="#222" stroke-width="1.0"/>
<text x="47.90" y="577.40" font-size="7.8" text-anchor="end" fill="#595959" stroke="#595959" stroke-width="0.2">1</text>
<line x1="52.90" y1="558.40" x2="55.50" y2="558.40" stroke="#222" stroke-width="1.0"/>
<text x="47.90" y="561.20" font-size="7.8" text-anchor="end" fill="#595959" stroke="#595959" stroke-width="0.2">2</text>
<line x1="52.90" y1="542.20" x2="55.50" y2="542.20" stroke="#222" stroke-width="1.0"/>
<text x="47.90" y="545.00" font-size="7.8" text-anchor="end" fill="#595959" stroke="#595959" stroke-width="0.2">3</text>
<line x1="52.90" y1="526.00" x2="55.50" y2="526.00" stroke="#222" stroke-width="1.0"/>
<text x="47.90" y="528.80" font-size="7.8" text-anchor="end" fill="#595959" stroke="#595959" stroke-width="0.2">4</text>
<line x1="52.90" y1="509.80" x2="55.50" y2="509.80" stroke="#222" stroke-width="1.0"/>
<text x="47.90" y="512.60" font-size="7.8" text-anchor="end" fill="#595959" stroke="#595959" stroke-width="0.2">5</text>
<line x1="52.90" y1="493.60" x2="55.50" y2="493.60" stroke="#222" stroke-width="1.0"/>
<text x="47.90" y="496.40" font-size="7.8" text-anchor="end" fill="#595959" stroke="#595959" stroke-width="0.2">6</text>
<line x1="55.50" y1="590.80" x2="175.50" y2="590.80" stroke="#404040" stroke-width="1.6"/>
<line x1="55.50" y1="590.80" x2="55.50" y2="593.80" stroke="#303030" stroke-width="1.0"/>
<line x1="79.50" y1="590.80" x2="79.50" y2="593.80" stroke="#303030" stroke-width="1.0"/>
<line x1="103.50" y1="590.80" x2="103.50" y2="593.80" stroke="#303030" stroke-width="1.0"/>
<line x1="127.50" y1="590.80" x2="127.50" y2="593.80" stroke="#303030" stroke-width="1.0"/>
<line x1="151.50" y1="590.80" x2="151.50" y2="593.80" stroke="#303030" stroke-width="1.0"/>
<line x1="175.50" y1="590.80" x2="175.50" y2="593.80" stroke="#303030" stroke-width="1.0"/>
<text x="68.30" y="605.00" font-size="9.4" text-anchor="middle" fill="#1a1a1a" stroke="#1a1a1a" stroke-width="0.35">T1</text>
<text x="92.30" y="605.00" font-size="9.4" text-anchor="middle" fill="#1a1a1a" stroke="#1a1a1a" stroke-width="0.35">T2</text>
<text x="116.30" y="605.00" font-size="9.4" text-anchor="middle" fill="#1a1a1a" stroke="#1a1a1a" stroke-width="0.35">T3</text>
<text x="140.30" y="605.00" font-size="9.4" text-anchor="middle" fill="#1a1a1a" stroke="#1a1a1a" stroke-width="0.35">T4</text>
<text x="164.30" y="605.00" font-size="9.4" text-anchor="middle" fill="#1a1a1a" stroke="#1a1a1a" stroke-width="0.35">T5</text>
<text stroke="#595959" stroke-width="0.2" transform="translate(35.60,542.20) rotate(-90)" font-size="8.1" text-anchor="middle" fill="#595959" xml:space="preserve">gRNA  counts (x1,000)</text>
<path d="M67.50,534.10 L91.50,568.44 L115.50,588.05 L139.50,589.83 L163.50,590.31" stroke="#ffc000" stroke-width="1.2" fill="none"/>
<path d="M67.50,537.34 L91.50,572.33 L115.50,586.75 L139.50,589.02 L163.50,589.83" stroke="#7030a0" stroke-width="1.2" fill="none"/>
<path d="M67.50,513.85 L91.50,561.15 L115.50,584.64 L139.50,586.43 L163.50,589.18" stroke="#1fb4ec" stroke-width="1.2" fill="none"/>
<polygon points="67.50,531.04 70.72,536.17 64.28,536.17" fill="#ffc000"/>
<polygon points="91.50,565.38 94.72,570.52 88.28,570.52" fill="#ffc000"/>
<polygon points="115.50,584.98 118.72,590.12 112.28,590.12" fill="#ffc000"/>
<polygon points="139.50,586.77 142.72,591.90 136.28,591.90" fill="#ffc000"/>
<polygon points="163.50,587.25 166.72,592.39 160.28,592.39" fill="#ffc000"/>
<polygon points="67.50,534.28 70.72,539.41 64.28,539.41" fill="#7030a0"/>
<polygon points="91.50,569.27 94.72,574.41 88.28,574.41" fill="#7030a0"/>
<polygon points="115.50,583.69 118.72,588.82 112.28,588.82" fill="#7030a0"/>
<polygon points="139.50,585.96 142.72,591.09 136.28,591.09" fill="#7030a0"/>
<polygon points="163.50,586.77 166.72,591.90 160.28,591.90" fill="#7030a0"/>
<polygon points="67.50,510.79 70.72,515.92 64.28,515.92" fill="#1fb4ec"/>
<polygon points="91.50,558.09 94.72,563.23 88.28,563.23" fill="#1fb4ec"/>
<polygon points="115.50,581.58 118.72,586.72 112.28,586.72" fill="#1fb4ec"/>
<polygon points="139.50,583.36 142.72,588.50 136.28,588.50" fill="#1fb4ec"/>
<polygon points="163.50,586.12 166.72,591.25 160.28,591.25" fill="#1fb4ec"/>
<line x1="118.90" y1="503.80" x2="127.90" y2="503.80" stroke="#1fb4ec" stroke-width="1.2"/>
<polygon points="123.10,501.44 125.58,505.40 120.62,505.40" fill="#1fb4ec"/>
<text x="128.80" y="506.70" font-size="8.1" fill="#595959" stroke="#595959" stroke-width="0.2">gRNA1</text>
<line x1="118.90" y1="518.70" x2="127.90" y2="518.70" stroke="#ffc000" stroke-width="1.2"/>
<polygon points="123.10,516.34 125.58,520.30 120.62,520.30" fill="#ffc000"/>
<text x="128.80" y="521.60" font-size="8.1" fill="#595959" stroke="#595959" stroke-width="0.2">gRNA2</text>
<line x1="118.90" y1="532.70" x2="127.90" y2="532.70" stroke="#7030a0" stroke-width="1.2"/>
<polygon points="123.10,530.34 125.58,534.30 120.62,534.30" fill="#7030a0"/>
<text x="128.80" y="535.60" font-size="8.1" fill="#595959" stroke="#595959" stroke-width="0.2">gRNA3</text>
<text x="265.30" y="483.80" font-size="9.7" text-anchor="middle" fill="#595959" stroke="#595959" stroke-width="0.2">PCF11</text>
<line x1="217.40" y1="493.80" x2="217.40" y2="591.50" stroke="#222" stroke-width="1.1"/>
<line x1="214.80" y1="591.50" x2="217.40" y2="591.50" stroke="#222" stroke-width="1.0"/>
<text x="210.50" y="594.30" font-size="7.8" text-anchor="end" fill="#595959" stroke="#595959" stroke-width="0.2">0</text>
<line x1="214.80" y1="571.96" x2="217.40" y2="571.96" stroke="#222" stroke-width="1.0"/>
<text x="210.50" y="574.76" font-size="7.8" text-anchor="end" fill="#595959" stroke="#595959" stroke-width="0.2">1</text>
<line x1="214.80" y1="552.42" x2="217.40" y2="552.42" stroke="#222" stroke-width="1.0"/>
<text x="210.50" y="555.22" font-size="7.8" text-anchor="end" fill="#595959" stroke="#595959" stroke-width="0.2">2</text>
<line x1="214.80" y1="532.88" x2="217.40" y2="532.88" stroke="#222" stroke-width="1.0"/>
<text x="210.50" y="535.68" font-size="7.8" text-anchor="end" fill="#595959" stroke="#595959" stroke-width="0.2">3</text>
<line x1="214.80" y1="513.34" x2="217.40" y2="513.34" stroke="#222" stroke-width="1.0"/>
<text x="210.50" y="516.14" font-size="7.8" text-anchor="end" fill="#595959" stroke="#595959" stroke-width="0.2">4</text>
<line x1="214.80" y1="493.80" x2="217.40" y2="493.80" stroke="#222" stroke-width="1.0"/>
<text x="210.50" y="496.60" font-size="7.8" text-anchor="end" fill="#595959" stroke="#595959" stroke-width="0.2">5</text>
<line x1="217.40" y1="591.50" x2="337.40" y2="591.50" stroke="#404040" stroke-width="1.6"/>
<line x1="217.40" y1="591.50" x2="217.40" y2="594.50" stroke="#303030" stroke-width="1.0"/>
<line x1="241.40" y1="591.50" x2="241.40" y2="594.50" stroke="#303030" stroke-width="1.0"/>
<line x1="265.40" y1="591.50" x2="265.40" y2="594.50" stroke="#303030" stroke-width="1.0"/>
<line x1="289.40" y1="591.50" x2="289.40" y2="594.50" stroke="#303030" stroke-width="1.0"/>
<line x1="313.40" y1="591.50" x2="313.40" y2="594.50" stroke="#303030" stroke-width="1.0"/>
<line x1="337.40" y1="591.50" x2="337.40" y2="594.50" stroke="#303030" stroke-width="1.0"/>
<text x="230.20" y="605.70" font-size="9.4" text-anchor="middle" fill="#1a1a1a" stroke="#1a1a1a" stroke-width="0.35">T1</text>
<text x="254.20" y="605.70" font-size="9.4" text-anchor="middle" fill="#1a1a1a" stroke="#1a1a1a" stroke-width="0.35">T2</text>
<text x="278.20" y="605.70" font-size="9.4" text-anchor="middle" fill="#1a1a1a" stroke="#1a1a1a" stroke-width="0.35">T3</text>
<text x="302.20" y="605.70" font-size="9.4" text-anchor="middle" fill="#1a1a1a" stroke="#1a1a1a" stroke-width="0.35">T4</text>
<text x="326.20" y="605.70" font-size="9.4" text-anchor="middle" fill="#1a1a1a" stroke="#1a1a1a" stroke-width="0.35">T5</text>
<text stroke="#595959" stroke-width="0.2" transform="translate(198.20,542.65) rotate(-90)" font-size="8.1" text-anchor="middle" fill="#595959" xml:space="preserve">gRNA  counts (x1,000)</text>
<path d="M229.40,518.62 L253.40,556.72 L277.40,574.89 L301.40,574.89 L325.40,572.16" stroke="#ffc000" stroke-width="1.2" fill="none"/>
<path d="M229.40,541.09 L253.40,565.32 L277.40,578.80 L301.40,580.17 L325.40,582.90" stroke="#7030a0" stroke-width="1.2" fill="none"/>
<path d="M229.40,510.41 L253.40,542.85 L277.40,571.37 L301.40,573.33 L325.40,574.89" stroke="#1fb4ec" stroke-width="1.2" fill="none"/>
<polygon points="229.40,515.55 232.62,520.69 226.18,520.69" fill="#ffc000"/>
<polygon points="253.40,553.66 256.62,558.79 250.18,558.79" fill="#ffc000"/>
<polygon points="277.40,571.83 280.62,576.97 274.18,576.97" fill="#ffc000"/>
<polygon points="301.40,571.83 304.62,576.97 298.18,576.97" fill="#ffc000"/>
<polygon points="325.40,569.09 328.62,574.23 322.18,574.23" fill="#ffc000"/>
<polygon points="229.40,538.02 232.62,543.16 226.18,543.16" fill="#7030a0"/>
<polygon points="253.40,562.25 256.62,567.39 250.18,567.39" fill="#7030a0"/>
<polygon points="277.40,575.74 280.62,580.87 274.18,580.87" fill="#7030a0"/>
<polygon points="301.40,577.10 304.62,582.24 298.18,582.24" fill="#7030a0"/>
<polygon points="325.40,579.84 328.62,584.98 322.18,584.98" fill="#7030a0"/>
<polygon points="229.40,507.35 232.62,512.48 226.18,512.48" fill="#1fb4ec"/>
<polygon points="253.40,539.78 256.62,544.92 250.18,544.92" fill="#1fb4ec"/>
<polygon points="277.40,568.31 280.62,573.45 274.18,573.45" fill="#1fb4ec"/>
<polygon points="301.40,570.26 304.62,575.40 298.18,575.40" fill="#1fb4ec"/>
<polygon points="325.40,571.83 328.62,576.97 322.18,576.97" fill="#1fb4ec"/>
<line x1="268.80" y1="504.00" x2="277.80" y2="504.00" stroke="#1fb4ec" stroke-width="1.2"/>
<polygon points="273.00,501.64 275.48,505.60 270.52,505.60" fill="#1fb4ec"/>
<text x="278.70" y="506.90" font-size="8.1" fill="#595959" stroke="#595959" stroke-width="0.2">gRNA1</text>
<line x1="268.80" y1="518.90" x2="277.80" y2="518.90" stroke="#ffc000" stroke-width="1.2"/>
<polygon points="273.00,516.54 275.48,520.50 270.52,520.50" fill="#ffc000"/>
<text x="278.70" y="521.80" font-size="8.1" fill="#595959" stroke="#595959" stroke-width="0.2">gRNA2</text>
<line x1="268.80" y1="533.50" x2="277.80" y2="533.50" stroke="#7030a0" stroke-width="1.2"/>
<polygon points="273.00,531.14 275.48,535.10 270.52,535.10" fill="#7030a0"/>
<text x="278.70" y="536.40" font-size="8.1" fill="#595959" stroke="#595959" stroke-width="0.2">gRNA3</text>
<text x="432.40" y="487.60" font-size="9.7" text-anchor="middle" fill="#595959" stroke="#595959" stroke-width="0.2">TP53</text>
<line x1="388.20" y1="497.33" x2="388.20" y2="591.90" stroke="#222" stroke-width="1.1"/>
<line x1="385.60" y1="591.90" x2="388.20" y2="591.90" stroke="#222" stroke-width="1.0"/>
<text x="381.30" y="594.70" font-size="7.8" text-anchor="end" fill="#595959" stroke="#595959" stroke-width="0.2">0</text>
<line x1="385.60" y1="578.39" x2="388.20" y2="578.39" stroke="#222" stroke-width="1.0"/>
<text x="381.30" y="581.19" font-size="7.8" text-anchor="end" fill="#595959" stroke="#595959" stroke-width="0.2">100</text>
<line x1="385.60" y1="564.88" x2="388.20" y2="564.88" stroke="#222" stroke-width="1.0"/>
<text x="381.30" y="567.68" font-size="7.8" text-anchor="end" fill="#595959" stroke="#595959" stroke-width="0.2">200</text>
<line x1="385.60" y1="551.37" x2="388.20" y2="551.37" stroke="#222" stroke-width="1.0"/>
<text x="381.30" y="554.17" font-size="7.8" text-anchor="end" fill="#595959" stroke="#595959" stroke-width="0.2">300</text>
<line x1="385.60" y1="537.86" x2="388.20" y2="537.86" stroke="#222" stroke-width="1.0"/>
<text x="381.30" y="540.66" font-size="7.8" text-anchor="end" fill="#595959" stroke="#595959" stroke-width="0.2">400</text>
<line x1="385.60" y1="524.35" x2="388.20" y2="524.35" stroke="#222" stroke-width="1.0"/>
<text x="381.30" y="527.15" font-size="7.8" text-anchor="end" fill="#595959" stroke="#595959" stroke-width="0.2">500</text>
<line x1="385.60" y1="510.84" x2="388.20" y2="510.84" stroke="#222" stroke-width="1.0"/>
<text x="381.30" y="513.64" font-size="7.8" text-anchor="end" fill="#595959" stroke="#595959" stroke-width="0.2">600</text>
<line x1="385.60" y1="497.33" x2="388.20" y2="497.33" stroke="#222" stroke-width="1.0"/>
<text x="381.30" y="500.13" font-size="7.8" text-anchor="end" fill="#595959" stroke="#595959" stroke-width="0.2">700</text>
<line x1="388.20" y1="591.90" x2="508.20" y2="591.90" stroke="#404040" stroke-width="1.6"/>
<line x1="388.20" y1="591.90" x2="388.20" y2="594.90" stroke="#303030" stroke-width="1.0"/>
<line x1="412.20" y1="591.90" x2="412.20" y2="594.90" stroke="#303030" stroke-width="1.0"/>
<line x1="436.20" y1="591.90" x2="436.20" y2="594.90" stroke="#303030" stroke-width="1.0"/>
<line x1="460.20" y1="591.90" x2="460.20" y2="594.90" stroke="#303030" stroke-width="1.0"/>
<line x1="484.20" y1="591.90" x2="484.20" y2="594.90" stroke="#303030" stroke-width="1.0"/>
<line x1="508.20" y1="591.90" x2="508.20" y2="594.90" stroke="#303030" stroke-width="1.0"/>
<text x="401.00" y="606.10" font-size="9.4" text-anchor="middle" fill="#1a1a1a" stroke="#1a1a1a" stroke-width="0.35">T1</text>
<text x="425.00" y="606.10" font-size="9.4" text-anchor="middle" fill="#1a1a1a" stroke="#1a1a1a" stroke-width="0.35">T2</text>
<text x="449.00" y="606.10" font-size="9.4" text-anchor="middle" fill="#1a1a1a" stroke="#1a1a1a" stroke-width="0.35">T3</text>
<text x="473.00" y="606.10" font-size="9.4" text-anchor="middle" fill="#1a1a1a" stroke="#1a1a1a" stroke-width="0.35">T4</text>
<text x="497.00" y="606.10" font-size="9.4" text-anchor="middle" fill="#1a1a1a" stroke="#1a1a1a" stroke-width="0.35">T5</text>
<text stroke="#595959" stroke-width="0.2" transform="translate(359.50,544.62) rotate(-90)" font-size="8.1" text-anchor="middle" fill="#595959" xml:space="preserve">gRNA  counts (x1,000)</text>
<path d="M400.20,591.49 L424.20,590.55 L448.20,585.55 L472.20,580.96 L496.20,566.37" stroke="#ffc000" stroke-width="1.2" fill="none"/>
<path d="M400.20,591.63 L424.20,590.82 L448.20,586.63 L472.20,581.36 L496.20,568.26" stroke="#7030a0" stroke-width="1.2" fill="none"/>
<path d="M400.20,590.55 L424.20,587.98 L448.20,574.34 L472.20,558.53 L496.20,510.43" stroke="#1fb4ec" stroke-width="1.2" fill="none"/>
<polygon points="400.20,588.43 403.42,593.57 396.98,593.57" fill="#ffc000"/>
<polygon points="424.20,587.49 427.42,592.62 420.98,592.62" fill="#ffc000"/>
<polygon points="448.20,582.49 451.42,587.63 444.98,587.63" fill="#ffc000"/>
<polygon points="472.20,577.89 475.42,583.03 468.98,583.03" fill="#ffc000"/>
<polygon points="496.20,563.30 499.42,568.44 492.98,568.44" fill="#ffc000"/>
<polygon points="400.20,588.57 403.42,593.70 396.98,593.70" fill="#7030a0"/>
<polygon points="424.20,587.76 427.42,592.89 420.98,592.89" fill="#7030a0"/>
<polygon points="448.20,583.57 451.42,588.71 444.98,588.71" fill="#7030a0"/>
<polygon points="472.20,578.30 475.42,583.44 468.98,583.44" fill="#7030a0"/>
<polygon points="496.20,565.19 499.42,570.33 492.98,570.33" fill="#7030a0"/>
<polygon points="400.20,587.49 403.42,592.62 396.98,592.62" fill="#1fb4ec"/>
<polygon points="424.20,584.92 427.42,590.06 420.98,590.06" fill="#1fb4ec"/>
<polygon points="448.20,571.27 451.42,576.41 444.98,576.41" fill="#1fb4ec"/>
<polygon points="472.20,555.47 475.42,560.61 468.98,560.61" fill="#1fb4ec"/>
<polygon points="496.20,507.37 499.42,512.51 492.98,512.51" fill="#1fb4ec"/>
<line x1="422.80" y1="508.60" x2="431.80" y2="508.60" stroke="#1fb4ec" stroke-width="1.2"/>
<polygon points="427.00,506.24 429.48,510.20 424.52,510.20" fill="#1fb4ec"/>
<text x="432.70" y="511.50" font-size="8.1" fill="#595959" stroke="#595959" stroke-width="0.2">gRNA1</text>
<line x1="422.80" y1="522.50" x2="431.80" y2="522.50" stroke="#ffc000" stroke-width="1.2"/>
<polygon points="427.00,520.14 429.48,524.10 424.52,524.10" fill="#ffc000"/>
<text x="432.70" y="525.40" font-size="8.1" fill="#595959" stroke="#595959" stroke-width="0.2">gRNA2</text>
<line x1="422.80" y1="536.70" x2="431.80" y2="536.70" stroke="#7030a0" stroke-width="1.2"/>
<polygon points="427.00,534.34 429.48,538.30 424.52,538.30" fill="#7030a0"/>
<text x="432.70" y="539.60" font-size="8.1" fill="#595959" stroke="#595959" stroke-width="0.2">gRNA3</text>
<text x="597.80" y="484.20" font-size="9.7" text-anchor="middle" fill="#595959" stroke="#595959" stroke-width="0.2">NF2</text>
<line x1="551.60" y1="494.30" x2="551.60" y2="592.30" stroke="#222" stroke-width="1.1"/>
<line x1="549.00" y1="592.30" x2="551.60" y2="592.30" stroke="#222" stroke-width="1.0"/>
<text x="544.40" y="595.10" font-size="7.8" text-anchor="end" fill="#595959" stroke="#595959" stroke-width="0.2">0</text>
<line x1="549.00" y1="572.70" x2="551.60" y2="572.70" stroke="#222" stroke-width="1.0"/>
<text x="544.40" y="575.50" font-size="7.8" text-anchor="end" fill="#595959" stroke="#595959" stroke-width="0.2">50</text>
<line x1="549.00" y1="553.10" x2="551.60" y2="553.10" stroke="#222" stroke-width="1.0"/>
<text x="544.40" y="555.90" font-size="7.8" text-anchor="end" fill="#595959" stroke="#595959" stroke-width="0.2">100</text>
<line x1="549.00" y1="533.50" x2="551.60" y2="533.50" stroke="#222" stroke-width="1.0"/>
<text x="544.40" y="536.30" font-size="7.8" text-anchor="end" fill="#595959" stroke="#595959" stroke-width="0.2">150</text>
<line x1="549.00" y1="513.90" x2="551.60" y2="513.90" stroke="#222" stroke-width="1.0"/>
<text x="544.40" y="516.70" font-size="7.8" text-anchor="end" fill="#595959" stroke="#595959" stroke-width="0.2">200</text>
<line x1="549.00" y1="494.30" x2="551.60" y2="494.30" stroke="#222" stroke-width="1.0"/>
<text x="544.40" y="497.10" font-size="7.8" text-anchor="end" fill="#595959" stroke="#595959" stroke-width="0.2">250</text>
<line x1="551.60" y1="592.30" x2="676.85" y2="592.30" stroke="#404040" stroke-width="1.6"/>
<line x1="551.60" y1="592.30" x2="551.60" y2="595.30" stroke="#303030" stroke-width="1.0"/>
<line x1="576.65" y1="592.30" x2="576.65" y2="595.30" stroke="#303030" stroke-width="1.0"/>
<line x1="601.70" y1="592.30" x2="601.70" y2="595.30" stroke="#303030" stroke-width="1.0"/>
<line x1="626.75" y1="592.30" x2="626.75" y2="595.30" stroke="#303030" stroke-width="1.0"/>
<line x1="651.80" y1="592.30" x2="651.80" y2="595.30" stroke="#303030" stroke-width="1.0"/>
<line x1="676.85" y1="592.30" x2="676.85" y2="595.30" stroke="#303030" stroke-width="1.0"/>
<text x="564.92" y="606.50" font-size="9.4" text-anchor="middle" fill="#1a1a1a" stroke="#1a1a1a" stroke-width="0.35">T1</text>
<text x="589.98" y="606.50" font-size="9.4" text-anchor="middle" fill="#1a1a1a" stroke="#1a1a1a" stroke-width="0.35">T2</text>
<text x="615.02" y="606.50" font-size="9.4" text-anchor="middle" fill="#1a1a1a" stroke="#1a1a1a" stroke-width="0.35">T3</text>
<text x="640.07" y="606.50" font-size="9.4" text-anchor="middle" fill="#1a1a1a" stroke="#1a1a1a" stroke-width="0.35">T4</text>
<text x="665.12" y="606.50" font-size="9.4" text-anchor="middle" fill="#1a1a1a" stroke="#1a1a1a" stroke-width="0.35">T5</text>
<text stroke="#595959" stroke-width="0.2" transform="translate(523.60,543.30) rotate(-90)" font-size="8.1" text-anchor="middle" fill="#595959" xml:space="preserve">gRNA  counts (x1,000)</text>
<path d="M564.12,590.73 L589.18,588.77 L614.23,578.97 L639.27,559.76 L664.33,534.68" stroke="#ffc000" stroke-width="1.2" fill="none"/>
<path d="M564.12,591.91 L589.18,591.12 L614.23,585.64 L639.27,577.80 L664.33,562.12" stroke="#7030a0" stroke-width="1.2" fill="none"/>
<path d="M564.12,591.12 L589.18,588.38 L614.23,576.62 L639.27,551.53 L664.33,500.96" stroke="#1fb4ec" stroke-width="1.2" fill="none"/>
<polygon points="564.12,587.67 567.35,592.81 560.90,592.81" fill="#ffc000"/>
<polygon points="589.18,585.71 592.40,590.85 585.95,590.85" fill="#ffc000"/>
<polygon points="614.23,575.91 617.45,581.05 611.00,581.05" fill="#ffc000"/>
<polygon points="639.27,556.70 642.50,561.84 636.05,561.84" fill="#ffc000"/>
<polygon points="664.33,531.61 667.55,536.75 661.10,536.75" fill="#ffc000"/>
<polygon points="564.12,588.85 567.35,593.98 560.90,593.98" fill="#7030a0"/>
<polygon points="589.18,588.06 592.40,593.20 585.95,593.20" fill="#7030a0"/>
<polygon points="614.23,582.57 617.45,587.71 611.00,587.71" fill="#7030a0"/>
<polygon points="639.27,574.73 642.50,579.87 636.05,579.87" fill="#7030a0"/>
<polygon points="664.33,559.05 667.55,564.19 661.10,564.19" fill="#7030a0"/>
<polygon points="564.12,588.06 567.35,593.20 560.90,593.20" fill="#1fb4ec"/>
<polygon points="589.18,585.32 592.40,590.45 585.95,590.45" fill="#1fb4ec"/>
<polygon points="614.23,573.56 617.45,578.69 611.00,578.69" fill="#1fb4ec"/>
<polygon points="639.27,548.47 642.50,553.61 636.05,553.61" fill="#1fb4ec"/>
<polygon points="664.33,497.90 667.55,503.04 661.10,503.04" fill="#1fb4ec"/>
<line x1="581.20" y1="505.20" x2="590.20" y2="505.20" stroke="#1fb4ec" stroke-width="1.2"/>
<polygon points="585.40,502.84 587.88,506.80 582.92,506.80" fill="#1fb4ec"/>
<text x="591.10" y="508.10" font-size="8.1" fill="#595959" stroke="#595959" stroke-width="0.2">gRNA1</text>
<line x1="581.20" y1="519.90" x2="590.20" y2="519.90" stroke="#ffc000" stroke-width="1.2"/>
<polygon points="585.40,517.54 587.88,521.50 582.92,521.50" fill="#ffc000"/>
<text x="591.10" y="522.80" font-size="8.1" fill="#595959" stroke="#595959" stroke-width="0.2">gRNA2</text>
<line x1="581.20" y1="534.90" x2="590.20" y2="534.90" stroke="#7030a0" stroke-width="1.2"/>
<polygon points="585.40,532.54 587.88,536.50 582.92,536.50" fill="#7030a0"/>
<text x="591.10" y="537.80" font-size="8.1" fill="#595959" stroke="#595959" stroke-width="0.2">gRNA3</text>
</svg></body></html>
